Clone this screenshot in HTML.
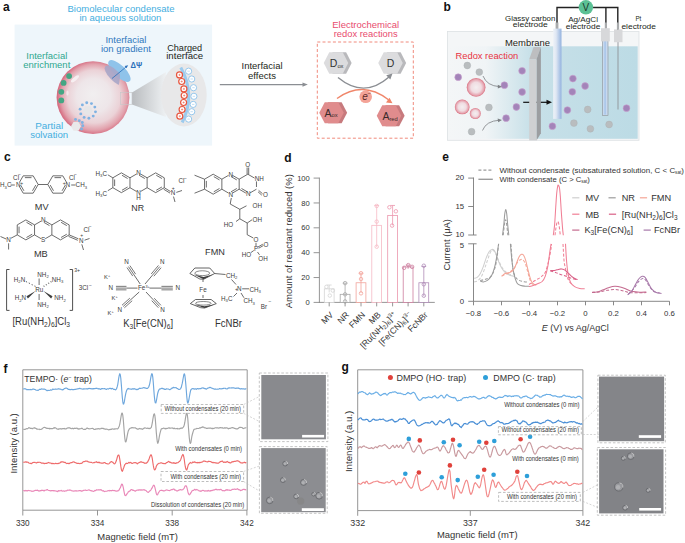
<!DOCTYPE html>
<html><head><meta charset="utf-8"><style>
html,body{margin:0;padding:0;background:#fff;}
body{width:685px;height:543px;overflow:hidden;}
svg{display:block;font-family:"Liberation Sans", sans-serif;}
</style></head><body>
<svg width="685" height="543" viewBox="0 0 685 543">
<defs>
<radialGradient id="sph" cx="0.52" cy="0.5" r="0.52" fx="0.5" fy="0.45">
<stop offset="0" stop-color="#f1eff0"/>
<stop offset="0.45" stop-color="#eee6e9"/>
<stop offset="0.7" stop-color="#ebd2d7"/>
<stop offset="0.87" stop-color="#e2a2ad"/>
<stop offset="1" stop-color="#d4647a"/>
</radialGradient>
<linearGradient id="cone" x1="0" y1="0" x2="1" y2="0">
<stop offset="0" stop-color="#b9bcbf"/>
<stop offset="1" stop-color="#eef1f3"/>
</linearGradient>
<linearGradient id="liq" x1="448" y1="0" x2="637" y2="0" gradientUnits="userSpaceOnUse">
<stop offset="0" stop-color="#f4f6f7"/>
<stop offset="0.2" stop-color="#f0f4f6"/>
<stop offset="0.44" stop-color="#c7e0e8"/>
<stop offset="1" stop-color="#bcdbe5"/>
</linearGradient>
<linearGradient id="gce" x1="0" y1="0" x2="1" y2="0">
<stop offset="0" stop-color="#eef2f8"/>
<stop offset="0.35" stop-color="#dfe7f3"/>
<stop offset="1" stop-color="#94b3df"/>
</linearGradient>
<radialGradient id="cond" cx="0.5" cy="0.5" r="0.5">
<stop offset="0" stop-color="#f4eef0"/>
<stop offset="0.55" stop-color="#f0dce1"/>
<stop offset="0.85" stop-color="#e6a4b0"/>
<stop offset="1" stop-color="#d9707f"/>
</radialGradient>
<filter id="grain" x="0" y="0" width="1" height="1">
<feTurbulence type="fractalNoise" baseFrequency="0.9" numOctaves="2" seed="3" result="n"/>
<feColorMatrix type="matrix" values="0 0 0 0 0.5  0 0 0 0 0.5  0 0 0 0 0.5  0 0 0 0.18 0" in="n" result="g"/>
<feComposite in="g" in2="SourceGraphic" operator="atop"/>
</filter>
</defs>
<rect width="685" height="543" fill="#fff"/>
<text x="3.00" y="11.00" font-size="12" fill="#111" text-anchor="start" font-weight="bold">a</text>
<text x="121.00" y="11.80" font-size="9.5" fill="#45aee0" text-anchor="middle" font-weight="normal" textLength="107" lengthAdjust="spacingAndGlyphs">Biomolecular condensate</text>
<text x="120.40" y="20.80" font-size="9.5" fill="#45aee0" text-anchor="middle" font-weight="normal" textLength="82" lengthAdjust="spacingAndGlyphs">in aqueous solution</text>
<rect x="14.60" y="24.60" width="197.50" height="121.00" fill="#eef6fb" stroke="none" stroke-width="1"/>
<circle cx="93.00" cy="97.60" r="36.4" fill="url(#sph)" stroke="none" stroke-width="1"/>
<ellipse cx="119.4" cy="71" rx="14.5" ry="5.8" transform="rotate(44 119.4 71)" fill="#8fc3ea"/>
<clipPath id="sphc"><circle cx="93" cy="97.6" r="36.4"/></clipPath>
<ellipse cx="114.5" cy="75.5" rx="13" ry="5.2" transform="rotate(46 114.5 75.5)" fill="#a9a6c8" opacity="0.9" clip-path="url(#sphc)"/>
<line x1="112.00" y1="78.50" x2="126.50" y2="66.60" stroke="#2a6fba" stroke-width="0.8"/>
<path d="M128.2,65.2 L124.6,66.1 L126.4,68.3 Z" stroke="none" stroke-width="1" fill="#2a6fba"/>
<text x="130.50" y="67.80" font-size="8.5" fill="#2a6fba" text-anchor="start" font-weight="bold" textLength="11.6" lengthAdjust="spacingAndGlyphs">ΔΨ</text>
<ellipse cx="75" cy="78.8" rx="5" ry="1.8" transform="rotate(-40 75 78.8)" fill="#f7f2f4" opacity="0.9"/>
<ellipse cx="67.5" cy="93" rx="1.2" ry="2.6" fill="#f5eef0" opacity="0.8"/>
<circle cx="69.10" cy="76.10" r="2.9" fill="#45a684" stroke="none" stroke-width="1"/>
<circle cx="63.60" cy="82.90" r="2.9" fill="#45a684" stroke="none" stroke-width="1"/>
<circle cx="61.30" cy="91.80" r="2.9" fill="#45a684" stroke="none" stroke-width="1"/>
<circle cx="61.30" cy="100.40" r="2.9" fill="#45a684" stroke="none" stroke-width="1"/>
<path d="M92.80,110.50 L90.30,114.83 L85.30,114.83 L82.80,110.50 L85.30,106.17 L90.30,106.17 Z" stroke="none" stroke-width="1" fill="#e6e6e8"/>
<circle cx="95.48" cy="111.85" r="1.45" fill="#7fb2e2" stroke="none" stroke-width="1"/>
<circle cx="93.22" cy="116.11" r="1.45" fill="#7fb2e2" stroke="none" stroke-width="1"/>
<circle cx="88.89" cy="118.22" r="1.45" fill="#7fb2e2" stroke="none" stroke-width="1"/>
<circle cx="84.14" cy="117.39" r="1.45" fill="#7fb2e2" stroke="none" stroke-width="1"/>
<circle cx="80.79" cy="113.92" r="1.45" fill="#7fb2e2" stroke="none" stroke-width="1"/>
<circle cx="80.12" cy="109.15" r="1.45" fill="#7fb2e2" stroke="none" stroke-width="1"/>
<circle cx="82.38" cy="104.89" r="1.45" fill="#7fb2e2" stroke="none" stroke-width="1"/>
<circle cx="86.71" cy="102.78" r="1.45" fill="#7fb2e2" stroke="none" stroke-width="1"/>
<circle cx="91.46" cy="103.61" r="1.45" fill="#7fb2e2" stroke="none" stroke-width="1"/>
<circle cx="94.81" cy="107.08" r="1.45" fill="#7fb2e2" stroke="none" stroke-width="1"/>
<path d="M81.00,126.30 L78.50,130.63 L73.50,130.63 L71.00,126.30 L73.50,121.97 L78.50,121.97 Z" stroke="none" stroke-width="1" fill="#e9e9ea"/>
<circle cx="75.50" cy="119.40" r="1.45" fill="#7fb2e2" stroke="none" stroke-width="1"/>
<circle cx="79.30" cy="120.70" r="1.45" fill="#7fb2e2" stroke="none" stroke-width="1"/>
<circle cx="82.30" cy="122.50" r="1.45" fill="#7fb2e2" stroke="none" stroke-width="1"/>
<circle cx="82.80" cy="125.80" r="1.45" fill="#7fb2e2" stroke="none" stroke-width="1"/>
<circle cx="81.60" cy="129.00" r="1.45" fill="#7fb2e2" stroke="none" stroke-width="1"/>
<path d="M132.00,92.50 L132.00,104.50 L166.00,117.00 L166.00,72.00 Z" stroke="none" stroke-width="1" fill="url(#cone)"/>
<rect x="120.40" y="92.50" width="11.60" height="12.00" fill="none" stroke="#c6c6c8" stroke-width="0.6"/>
<ellipse cx="183.9" cy="95" rx="22.8" ry="31.5" fill="#e8e8e9"/>
<path d="M180.8,67.5 Q196,95 182.2,122.5" stroke="#9ccbee" stroke-width="3.0" fill="none"/>
<circle cx="188.60" cy="71.20" r="3.1" fill="#fff" stroke="#8cc2ea" stroke-width="0.9"/>
<line x1="187.40" y1="71.20" x2="189.80" y2="71.20" stroke="#86bde9" stroke-width="0.5"/>
<circle cx="191.70" cy="79.00" r="3.1" fill="#fff" stroke="#8cc2ea" stroke-width="0.9"/>
<line x1="190.50" y1="79.00" x2="192.90" y2="79.00" stroke="#86bde9" stroke-width="0.5"/>
<circle cx="193.50" cy="87.70" r="3.1" fill="#fff" stroke="#8cc2ea" stroke-width="0.9"/>
<line x1="192.30" y1="87.70" x2="194.70" y2="87.70" stroke="#86bde9" stroke-width="0.5"/>
<circle cx="193.90" cy="96.30" r="3.1" fill="#fff" stroke="#8cc2ea" stroke-width="0.9"/>
<line x1="192.70" y1="96.30" x2="195.10" y2="96.30" stroke="#86bde9" stroke-width="0.5"/>
<circle cx="193.20" cy="104.40" r="3.1" fill="#fff" stroke="#8cc2ea" stroke-width="0.9"/>
<line x1="192.00" y1="104.40" x2="194.40" y2="104.40" stroke="#86bde9" stroke-width="0.5"/>
<circle cx="191.70" cy="111.70" r="3.1" fill="#fff" stroke="#8cc2ea" stroke-width="0.9"/>
<line x1="190.50" y1="111.70" x2="192.90" y2="111.70" stroke="#86bde9" stroke-width="0.5"/>
<circle cx="188.60" cy="119.10" r="3.1" fill="#fff" stroke="#8cc2ea" stroke-width="0.9"/>
<line x1="187.40" y1="119.10" x2="189.80" y2="119.10" stroke="#86bde9" stroke-width="0.5"/>
<circle cx="179.50" cy="74.90" r="3.0" fill="#fff" stroke="#e8553e" stroke-width="1.2"/>
<line x1="178.40" y1="74.90" x2="180.60" y2="74.90" stroke="#e8553e" stroke-width="0.5"/>
<line x1="179.50" y1="73.80" x2="179.50" y2="76.00" stroke="#e8553e" stroke-width="0.5"/>
<circle cx="181.70" cy="81.50" r="3.0" fill="#fff" stroke="#e8553e" stroke-width="1.2"/>
<line x1="180.60" y1="81.50" x2="182.80" y2="81.50" stroke="#e8553e" stroke-width="0.5"/>
<line x1="181.70" y1="80.40" x2="181.70" y2="82.60" stroke="#e8553e" stroke-width="0.5"/>
<circle cx="183.90" cy="88.90" r="3.0" fill="#fff" stroke="#e8553e" stroke-width="1.2"/>
<line x1="182.80" y1="88.90" x2="185.00" y2="88.90" stroke="#e8553e" stroke-width="0.5"/>
<line x1="183.90" y1="87.80" x2="183.90" y2="90.00" stroke="#e8553e" stroke-width="0.5"/>
<circle cx="184.20" cy="95.50" r="3.0" fill="#fff" stroke="#e8553e" stroke-width="1.2"/>
<line x1="183.10" y1="95.50" x2="185.30" y2="95.50" stroke="#e8553e" stroke-width="0.5"/>
<line x1="184.20" y1="94.40" x2="184.20" y2="96.60" stroke="#e8553e" stroke-width="0.5"/>
<circle cx="183.60" cy="102.50" r="3.0" fill="#fff" stroke="#e8553e" stroke-width="1.2"/>
<line x1="182.50" y1="102.50" x2="184.70" y2="102.50" stroke="#e8553e" stroke-width="0.5"/>
<line x1="183.60" y1="101.40" x2="183.60" y2="103.60" stroke="#e8553e" stroke-width="0.5"/>
<circle cx="182.10" cy="109.50" r="3.0" fill="#fff" stroke="#e8553e" stroke-width="1.2"/>
<line x1="181.00" y1="109.50" x2="183.20" y2="109.50" stroke="#e8553e" stroke-width="0.5"/>
<line x1="182.10" y1="108.40" x2="182.10" y2="110.60" stroke="#e8553e" stroke-width="0.5"/>
<circle cx="179.80" cy="116.20" r="3.0" fill="#fff" stroke="#e8553e" stroke-width="1.2"/>
<line x1="178.70" y1="116.20" x2="180.90" y2="116.20" stroke="#e8553e" stroke-width="0.5"/>
<line x1="179.80" y1="115.10" x2="179.80" y2="117.30" stroke="#e8553e" stroke-width="0.5"/>
<text x="125.90" y="43.00" font-size="9.5" fill="#2f78be" text-anchor="middle" font-weight="normal" textLength="41" lengthAdjust="spacingAndGlyphs">Interfacial</text>
<text x="125.90" y="52.20" font-size="9.5" fill="#2f78be" text-anchor="middle" font-weight="normal" textLength="50" lengthAdjust="spacingAndGlyphs">ion gradient</text>
<text x="184.70" y="50.60" font-size="9.5" fill="#231f20" text-anchor="middle" font-weight="normal" textLength="35" lengthAdjust="spacingAndGlyphs">Charged</text>
<text x="184.70" y="59.40" font-size="9.5" fill="#231f20" text-anchor="middle" font-weight="normal" textLength="37" lengthAdjust="spacingAndGlyphs">interface</text>
<text x="46.80" y="59.20" font-size="9.5" fill="#2fa88f" text-anchor="middle" font-weight="normal" textLength="41" lengthAdjust="spacingAndGlyphs">Interfacial</text>
<text x="46.80" y="68.40" font-size="9.5" fill="#2fa88f" text-anchor="middle" font-weight="normal" textLength="47" lengthAdjust="spacingAndGlyphs">enrichment</text>
<text x="49.20" y="128.80" font-size="9.5" fill="#45aee0" text-anchor="middle" font-weight="normal" textLength="28" lengthAdjust="spacingAndGlyphs">Partial</text>
<text x="49.20" y="138.00" font-size="9.5" fill="#45aee0" text-anchor="middle" font-weight="normal" textLength="38" lengthAdjust="spacingAndGlyphs">solvation</text>
<line x1="219.80" y1="84.60" x2="305.00" y2="84.60" stroke="#8b8e93" stroke-width="1.1"/>
<path d="M307.8,84.6 L302.5,82.4 L302.5,86.8 Z" stroke="none" stroke-width="1" fill="#8b8e93"/>
<text x="262.00" y="68.60" font-size="9.5" fill="#231f20" text-anchor="middle" font-weight="normal" textLength="41" lengthAdjust="spacingAndGlyphs">Interfacial</text>
<text x="262.00" y="78.50" font-size="9.5" fill="#231f20" text-anchor="middle" font-weight="normal" textLength="28" lengthAdjust="spacingAndGlyphs">effects</text>
<text x="365.70" y="27.90" font-size="9.5" fill="#e84b6e" text-anchor="middle" font-weight="normal" textLength="67" lengthAdjust="spacingAndGlyphs">Electrochemical</text>
<text x="365.70" y="37.00" font-size="9.5" fill="#e84b6e" text-anchor="middle" font-weight="normal" textLength="64" lengthAdjust="spacingAndGlyphs">redox reactions</text>
<rect x="317.30" y="42.00" width="96.00" height="96.20" fill="none" stroke="#f08a7c" stroke-width="1" stroke-dasharray="3,2.2"/>
<path d="M327.15,63.00 L332.66,52.25 L346.14,52.25 L351.65,63.00 L346.14,73.75 L332.66,73.75 Z" stroke="none" stroke-width="1" fill="#b9b9bc"/>
<path d="M323.75,63.00 L329.26,52.25 L342.74,52.25 L348.25,63.00 L342.74,73.75 L329.26,73.75 Z" stroke="none" stroke-width="1" fill="#dcdcde"/>
<path d="M381.65,63.00 L387.16,52.25 L400.64,52.25 L406.15,63.00 L400.64,73.75 L387.16,73.75 Z" stroke="none" stroke-width="1" fill="#b9b9bc"/>
<path d="M378.25,63.00 L383.76,52.25 L397.24,52.25 L402.75,63.00 L397.24,73.75 L383.76,73.75 Z" stroke="none" stroke-width="1" fill="#dcdcde"/>
<path d="M322.65,112.70 L328.16,102.20 L341.64,102.20 L347.15,112.70 L341.64,123.20 L328.16,123.20 Z" stroke="none" stroke-width="1" fill="#c77a7d"/>
<path d="M319.25,112.70 L324.76,102.20 L338.24,102.20 L343.75,112.70 L338.24,123.20 L324.76,123.20 Z" stroke="none" stroke-width="1" fill="#e08c8d"/>
<path d="M380.15,115.80 L385.66,105.30 L399.14,105.30 L404.65,115.80 L399.14,126.30 L385.66,126.30 Z" stroke="none" stroke-width="1" fill="#c77a7d"/>
<path d="M376.75,115.80 L382.26,105.30 L395.74,105.30 L401.25,115.80 L395.74,126.30 L382.26,126.30 Z" stroke="none" stroke-width="1" fill="#e08c8d"/>
<text x="329.80" y="67.30" font-size="10.5" fill="#333" text-anchor="start" font-weight="normal">D</text>
<text x="337.40" y="67.80" font-size="5.8" fill="#333" text-anchor="start" font-weight="normal">ox</text>
<text x="390.50" y="67.30" font-size="10.5" fill="#333" text-anchor="middle" font-weight="normal">D</text>
<text x="324.60" y="116.60" font-size="10.5" fill="#3a2a2a" text-anchor="start" font-weight="normal">A</text>
<text x="331.60" y="117.30" font-size="5.8" fill="#3a2a2a" text-anchor="start" font-weight="normal">ox</text>
<text x="382.40" y="119.80" font-size="10.5" fill="#3a2a2a" text-anchor="start" font-weight="normal">A</text>
<text x="389.40" y="120.60" font-size="5.8" fill="#3a2a2a" text-anchor="start" font-weight="normal">red</text>
<path d="M338,77.5 Q364,99 389,77" stroke="#8b8e93" stroke-width="1.4" fill="none"/>
<path d="M392.5,73.5 L386.2,75.2 L390.3,79.4 Z" stroke="none" stroke-width="1" fill="#8b8e93"/>
<path d="M337,98.5 Q363,80 388.5,99.8" stroke="#f0866a" stroke-width="1.4" fill="none"/>
<path d="M392.5,103.2 L386,102.6 L389.5,97.8 Z" stroke="none" stroke-width="1" fill="#f0866a"/>
<circle cx="365.70" cy="96.80" r="6.3" fill="#f4a397" stroke="none" stroke-width="1"/>
<text x="365.00" y="100.20" font-size="10" fill="#5a2a2a" text-anchor="middle" font-weight="normal" font-style="italic">e</text>
<text x="369.00" y="95.00" font-size="5.5" fill="#5a2a2a" text-anchor="middle" font-weight="normal">−</text>
<text x="443.50" y="11.20" font-size="12" fill="#111" text-anchor="start" font-weight="bold">b</text>
<rect x="447.50" y="31.50" width="191.50" height="108.80" fill="#f4f6f7" stroke="#dde1e3" stroke-width="0.8"/>
<rect x="448.20" y="46.30" width="189.50" height="92.50" fill="url(#liq)" stroke="none" stroke-width="1"/>
<circle cx="476.10" cy="87.40" r="9.4" fill="url(#cond)" stroke="none" stroke-width="1"/>
<circle cx="462.20" cy="106.90" r="7.4" fill="url(#cond)" stroke="none" stroke-width="1"/>
<circle cx="475.30" cy="113.50" r="5.5" fill="url(#cond)" stroke="none" stroke-width="1"/>
<circle cx="458.20" cy="77.20" r="3.4" fill="#a384b9" stroke="#c9a0cc" stroke-width="0.6"/>
<circle cx="504.40" cy="85.20" r="3.4" fill="#a384b9" stroke="#c9a0cc" stroke-width="0.6"/>
<circle cx="522.10" cy="70.80" r="3.4" fill="#a384b9" stroke="#c9a0cc" stroke-width="0.6"/>
<circle cx="522.10" cy="92.00" r="3.4" fill="#a384b9" stroke="#c9a0cc" stroke-width="0.6"/>
<circle cx="516.40" cy="107.00" r="3.4" fill="#a384b9" stroke="#c9a0cc" stroke-width="0.6"/>
<circle cx="506.10" cy="118.20" r="3.4" fill="#a384b9" stroke="#c9a0cc" stroke-width="0.6"/>
<circle cx="467.30" cy="65.50" r="3.4" fill="#b9bdbf" stroke="#a9adb0" stroke-width="0.4"/>
<circle cx="479.30" cy="72.10" r="3.4" fill="#b9bdbf" stroke="#a9adb0" stroke-width="0.4"/>
<circle cx="488.90" cy="107.40" r="3.4" fill="#b9bdbf" stroke="#a9adb0" stroke-width="0.4"/>
<circle cx="471.60" cy="131.70" r="3.4" fill="#b9bdbf" stroke="#a9adb0" stroke-width="0.4"/>
<path d="M483,76 Q487,86 499.5,86.6" stroke="#7d8084" stroke-width="0.8" fill="none"/>
<path d="M502,86.8 L497.8,84.8 L497.8,88.6 Z" stroke="none" stroke-width="1" fill="#7d8084"/>
<path d="M482.5,130.5 Q486,121 499.5,120.2" stroke="#7d8084" stroke-width="0.8" fill="none"/>
<path d="M502,120 L497.6,118.4 L498.2,122.2 Z" stroke="none" stroke-width="1" fill="#7d8084"/>
<text x="455.50" y="59.30" font-size="9.5" fill="#e8323f" text-anchor="start" font-weight="normal" textLength="62.8" lengthAdjust="spacingAndGlyphs">Redox reaction</text>
<line x1="523.20" y1="102.30" x2="548.50" y2="102.30" stroke="#111" stroke-width="1.2"/>
<path d="M552,102.3 L546.5,99.8 L546.5,104.8 Z" stroke="none" stroke-width="1" fill="#111"/>
<path d="M529.20,59.30 L533.60,47.10 L540.90,47.10 L536.50,59.30 Z" stroke="none" stroke-width="1" fill="#bdbec0"/>
<path d="M536.50,59.30 L540.90,47.10 L540.90,133.30 L536.50,140.40 Z" stroke="none" stroke-width="1" fill="#9c9ea1"/>
<rect x="529.20" y="59.30" width="7.30" height="81.10" fill="#cfd0d2" stroke="none" stroke-width="1"/>
<text x="527.50" y="46.00" font-size="9.5" fill="#231f20" text-anchor="middle" font-weight="normal" textLength="45" lengthAdjust="spacingAndGlyphs">Membrane</text>
<circle cx="552.40" cy="126.20" r="3.4" fill="#a384b9" stroke="#c9a0cc" stroke-width="0.6"/>
<circle cx="567.40" cy="110.10" r="3.4" fill="#a384b9" stroke="#c9a0cc" stroke-width="0.6"/>
<circle cx="572.90" cy="78.60" r="3.4" fill="#a384b9" stroke="#c9a0cc" stroke-width="0.6"/>
<circle cx="572.30" cy="91.80" r="3.4" fill="#a384b9" stroke="#c9a0cc" stroke-width="0.6"/>
<circle cx="585.10" cy="86.00" r="3.4" fill="#a384b9" stroke="#c9a0cc" stroke-width="0.6"/>
<circle cx="626.50" cy="108.20" r="3.4" fill="#a384b9" stroke="#c9a0cc" stroke-width="0.6"/>
<circle cx="587.70" cy="109.50" r="3.4" fill="#b9bdbf" stroke="#a9adb0" stroke-width="0.4"/>
<circle cx="573.90" cy="123.10" r="3.4" fill="#b9bdbf" stroke="#a9adb0" stroke-width="0.4"/>
<circle cx="590.40" cy="128.80" r="3.4" fill="#b9bdbf" stroke="#a9adb0" stroke-width="0.4"/>
<circle cx="609.10" cy="124.50" r="3.4" fill="#b9bdbf" stroke="#a9adb0" stroke-width="0.4"/>
<path d="M557,23 L557,7.5 L579,7.5" stroke="#222" stroke-width="1.4" fill="none"/>
<path d="M593,7.5 L617.8,7.5 L617.8,30" stroke="#222" stroke-width="1.4" fill="none"/>
<line x1="605.90" y1="7.50" x2="605.90" y2="28.50" stroke="#222" stroke-width="1.4"/>
<circle cx="585.90" cy="7.30" r="7.2" fill="#5cc196" stroke="none" stroke-width="1"/>
<text x="585.90" y="11.20" font-size="10" fill="#1e3b2c" text-anchor="middle" font-weight="normal">V</text>
<rect x="555.60" y="22.50" width="2.80" height="6.50" fill="#a9abad" stroke="none" stroke-width="1"/>
<rect x="553.20" y="28.60" width="8.30" height="90.30" fill="url(#gce)" stroke="none" stroke-width="1"/>
<rect x="602.40" y="40.00" width="5.60" height="75.40" fill="#c7d9ee" stroke="#8c9094" stroke-width="0.6"/>
<rect x="604.30" y="40.50" width="1.60" height="74.00" fill="#aac6ea" stroke="none" stroke-width="1"/>
<rect x="604.80" y="22.50" width="2.20" height="6.00" fill="#a9abad" stroke="none" stroke-width="1"/>
<rect x="601.00" y="28.20" width="8.80" height="13.20" fill="#d7d8da" stroke="none" stroke-width="1"/>
<line x1="618.00" y1="42.00" x2="618.00" y2="109.50" stroke="#8e9296" stroke-width="0.9"/>
<rect x="616.90" y="22.50" width="2.20" height="7.00" fill="#a9abad" stroke="none" stroke-width="1"/>
<rect x="614.00" y="29.40" width="8.50" height="12.80" fill="#d7d8da" stroke="none" stroke-width="1"/>
<text x="530.20" y="21.00" font-size="7.8" fill="#231f20" text-anchor="middle" font-weight="normal" textLength="50.3" lengthAdjust="spacingAndGlyphs">Glassy carbon</text>
<text x="530.30" y="27.30" font-size="7.8" fill="#231f20" text-anchor="middle" font-weight="normal" textLength="35.1" lengthAdjust="spacingAndGlyphs">electrode</text>
<text x="583.10" y="22.20" font-size="7.8" fill="#231f20" text-anchor="middle" font-weight="normal" textLength="29.9" lengthAdjust="spacingAndGlyphs">Ag/AgCl</text>
<text x="583.10" y="29.20" font-size="7.8" fill="#231f20" text-anchor="middle" font-weight="normal" textLength="34.5" lengthAdjust="spacingAndGlyphs">electrode</text>
<text x="638.40" y="21.00" font-size="7.8" fill="#231f20" text-anchor="middle" font-weight="normal" textLength="5.8" lengthAdjust="spacingAndGlyphs">Pt</text>
<text x="638.70" y="29.20" font-size="7.8" fill="#231f20" text-anchor="middle" font-weight="normal" textLength="34.5" lengthAdjust="spacingAndGlyphs">electrode</text>
<text x="4.00" y="160.50" font-size="12" fill="#111" text-anchor="start" font-weight="bold">c</text>
<line x1="38.20" y1="184.50" x2="33.20" y2="193.16" stroke="#3c3c3c" stroke-width="0.75"/>
<line x1="35.79" y1="185.07" x2="32.49" y2="190.79" stroke="#3c3c3c" stroke-width="0.75"/>
<line x1="33.20" y1="193.16" x2="23.20" y2="193.16" stroke="#3c3c3c" stroke-width="0.75"/>
<line x1="23.20" y1="193.16" x2="19.45" y2="186.67" stroke="#3c3c3c" stroke-width="0.75"/>
<line x1="23.91" y1="190.79" x2="20.61" y2="185.07" stroke="#3c3c3c" stroke-width="0.75"/>
<line x1="19.45" y1="182.33" x2="23.20" y2="175.84" stroke="#3c3c3c" stroke-width="0.75"/>
<line x1="23.20" y1="175.84" x2="33.20" y2="175.84" stroke="#3c3c3c" stroke-width="0.75"/>
<line x1="24.90" y1="177.64" x2="31.50" y2="177.64" stroke="#3c3c3c" stroke-width="0.75"/>
<line x1="33.20" y1="175.84" x2="38.20" y2="184.50" stroke="#3c3c3c" stroke-width="0.75"/>
<line x1="66.55" y1="186.67" x2="62.80" y2="193.16" stroke="#3c3c3c" stroke-width="0.75"/>
<line x1="65.39" y1="185.07" x2="62.09" y2="190.79" stroke="#3c3c3c" stroke-width="0.75"/>
<line x1="62.80" y1="193.16" x2="52.80" y2="193.16" stroke="#3c3c3c" stroke-width="0.75"/>
<line x1="52.80" y1="193.16" x2="47.80" y2="184.50" stroke="#3c3c3c" stroke-width="0.75"/>
<line x1="53.51" y1="190.79" x2="50.21" y2="185.07" stroke="#3c3c3c" stroke-width="0.75"/>
<line x1="47.80" y1="184.50" x2="52.80" y2="175.84" stroke="#3c3c3c" stroke-width="0.75"/>
<line x1="52.80" y1="175.84" x2="62.80" y2="175.84" stroke="#3c3c3c" stroke-width="0.75"/>
<line x1="54.50" y1="177.64" x2="61.10" y2="177.64" stroke="#3c3c3c" stroke-width="0.75"/>
<line x1="62.80" y1="175.84" x2="66.55" y2="182.33" stroke="#3c3c3c" stroke-width="0.75"/>
<line x1="38.20" y1="184.50" x2="47.80" y2="184.50" stroke="#3c3c3c" stroke-width="0.75"/>
<text x="18.20" y="187.30" font-size="6.3" fill="#3c3c3c" text-anchor="middle" font-weight="normal">N</text>
<text x="21.60" y="185.00" font-size="5" fill="#3c3c3c" text-anchor="middle" font-weight="normal">+</text>
<text x="67.80" y="187.30" font-size="6.3" fill="#3c3c3c" text-anchor="middle" font-weight="normal">N</text>
<text x="64.20" y="185.00" font-size="5" fill="#3c3c3c" text-anchor="middle" font-weight="normal">+</text>
<line x1="10.60" y1="185.00" x2="14.80" y2="185.00" stroke="#3c3c3c" stroke-width="0.75"/>
<line x1="71.20" y1="185.00" x2="75.40" y2="185.00" stroke="#3c3c3c" stroke-width="0.75"/>
<text x="0.00" y="187.30" font-size="6.3" fill="#3c3c3c" text-anchor="start" font-weight="normal">H<tspan font-size="4.2" dy="1.2">3</tspan><tspan dy="-1.2">C</tspan></text>
<text x="75.60" y="187.30" font-size="6.3" fill="#3c3c3c" text-anchor="start" font-weight="normal">CH<tspan font-size="4.2" dy="1.2">3</tspan></text>
<text x="13.10" y="179.70" font-size="6.3" fill="#3c3c3c" text-anchor="start" font-weight="normal">Cl</text>
<text x="19.50" y="175.80" font-size="5" fill="#3c3c3c" text-anchor="middle" font-weight="normal">−</text>
<text x="69.00" y="179.70" font-size="6.3" fill="#3c3c3c" text-anchor="start" font-weight="normal">Cl</text>
<text x="75.50" y="175.80" font-size="5" fill="#3c3c3c" text-anchor="middle" font-weight="normal">−</text>
<text x="41.70" y="210.30" font-size="9.4" fill="#333" text-anchor="middle" font-weight="normal" textLength="13.8" lengthAdjust="spacingAndGlyphs">MV</text>
<line x1="121.40" y1="172.85" x2="129.97" y2="177.80" stroke="#3c3c3c" stroke-width="0.75"/>
<line x1="121.96" y1="175.25" x2="127.62" y2="178.52" stroke="#3c3c3c" stroke-width="0.75"/>
<line x1="129.97" y1="177.80" x2="129.97" y2="187.70" stroke="#3c3c3c" stroke-width="0.75"/>
<line x1="129.97" y1="187.70" x2="121.40" y2="192.65" stroke="#3c3c3c" stroke-width="0.75"/>
<line x1="127.62" y1="186.98" x2="121.96" y2="190.25" stroke="#3c3c3c" stroke-width="0.75"/>
<line x1="121.40" y1="192.65" x2="112.83" y2="187.70" stroke="#3c3c3c" stroke-width="0.75"/>
<line x1="112.83" y1="187.70" x2="112.83" y2="177.80" stroke="#3c3c3c" stroke-width="0.75"/>
<line x1="114.63" y1="186.02" x2="114.63" y2="179.48" stroke="#3c3c3c" stroke-width="0.75"/>
<line x1="112.83" y1="177.80" x2="121.40" y2="172.85" stroke="#3c3c3c" stroke-width="0.75"/>
<line x1="140.54" y1="174.00" x2="147.12" y2="177.80" stroke="#3c3c3c" stroke-width="0.75"/>
<line x1="139.11" y1="175.25" x2="144.77" y2="178.52" stroke="#3c3c3c" stroke-width="0.75"/>
<line x1="147.12" y1="177.80" x2="147.12" y2="187.70" stroke="#3c3c3c" stroke-width="0.75"/>
<line x1="147.12" y1="187.70" x2="140.54" y2="191.50" stroke="#3c3c3c" stroke-width="0.75"/>
<line x1="136.56" y1="191.50" x2="129.98" y2="187.70" stroke="#3c3c3c" stroke-width="0.75"/>
<line x1="129.98" y1="177.80" x2="136.56" y2="174.00" stroke="#3c3c3c" stroke-width="0.75"/>
<line x1="155.70" y1="172.85" x2="164.27" y2="177.80" stroke="#3c3c3c" stroke-width="0.75"/>
<line x1="156.26" y1="175.25" x2="161.92" y2="178.52" stroke="#3c3c3c" stroke-width="0.75"/>
<line x1="164.27" y1="177.80" x2="164.27" y2="187.70" stroke="#3c3c3c" stroke-width="0.75"/>
<line x1="164.27" y1="187.70" x2="155.70" y2="192.65" stroke="#3c3c3c" stroke-width="0.75"/>
<line x1="161.92" y1="186.98" x2="156.26" y2="190.25" stroke="#3c3c3c" stroke-width="0.75"/>
<line x1="155.70" y1="192.65" x2="147.13" y2="187.70" stroke="#3c3c3c" stroke-width="0.75"/>
<line x1="147.13" y1="177.80" x2="155.70" y2="172.85" stroke="#3c3c3c" stroke-width="0.75"/>
<text x="138.60" y="175.30" font-size="6.3" fill="#3c3c3c" text-anchor="middle" font-weight="normal">N</text>
<text x="138.60" y="194.60" font-size="6.3" fill="#3c3c3c" text-anchor="middle" font-weight="normal">N</text>
<text x="138.60" y="200.40" font-size="6.3" fill="#3c3c3c" text-anchor="middle" font-weight="normal">H</text>
<line x1="112.83" y1="177.80" x2="107.83" y2="174.80" stroke="#3c3c3c" stroke-width="0.75"/>
<line x1="112.83" y1="187.70" x2="107.83" y2="190.70" stroke="#3c3c3c" stroke-width="0.75"/>
<text x="95.50" y="175.50" font-size="6.3" fill="#3c3c3c" text-anchor="start" font-weight="normal">H<tspan font-size="4.2" dy="1.2">3</tspan><tspan dy="-1.2">C</tspan></text>
<text x="95.50" y="195.50" font-size="6.3" fill="#3c3c3c" text-anchor="start" font-weight="normal">H<tspan font-size="4.2" dy="1.2">3</tspan><tspan dy="-1.2">C</tspan></text>
<line x1="164.27" y1="187.70" x2="170.60" y2="191.60" stroke="#3c3c3c" stroke-width="0.75"/>
<line x1="163.67" y1="189.20" x2="170.00" y2="193.10" stroke="#3c3c3c" stroke-width="0.75"/>
<text x="173.00" y="195.30" font-size="6.3" fill="#3c3c3c" text-anchor="middle" font-weight="normal">N</text>
<text x="173.30" y="189.80" font-size="5" fill="#3c3c3c" text-anchor="middle" font-weight="normal">+</text>
<line x1="176.30" y1="192.40" x2="182.00" y2="190.50" stroke="#3c3c3c" stroke-width="0.75"/>
<line x1="173.50" y1="196.60" x2="175.00" y2="202.00" stroke="#3c3c3c" stroke-width="0.75"/>
<text x="178.50" y="183.30" font-size="6.3" fill="#3c3c3c" text-anchor="start" font-weight="normal">Cl</text>
<text x="185.50" y="179.50" font-size="5" fill="#3c3c3c" text-anchor="middle" font-weight="normal">−</text>
<text x="137.70" y="210.60" font-size="9.6" fill="#333" text-anchor="middle" font-weight="normal" textLength="12.8" lengthAdjust="spacingAndGlyphs">NR</text>
<line x1="213.20" y1="174.20" x2="221.86" y2="179.20" stroke="#3c3c3c" stroke-width="0.75"/>
<line x1="213.77" y1="176.61" x2="219.49" y2="179.91" stroke="#3c3c3c" stroke-width="0.75"/>
<line x1="221.86" y1="179.20" x2="221.86" y2="189.20" stroke="#3c3c3c" stroke-width="0.75"/>
<line x1="221.86" y1="189.20" x2="213.20" y2="194.20" stroke="#3c3c3c" stroke-width="0.75"/>
<line x1="219.49" y1="188.49" x2="213.77" y2="191.79" stroke="#3c3c3c" stroke-width="0.75"/>
<line x1="213.20" y1="194.20" x2="204.54" y2="189.20" stroke="#3c3c3c" stroke-width="0.75"/>
<line x1="204.54" y1="189.20" x2="204.54" y2="179.20" stroke="#3c3c3c" stroke-width="0.75"/>
<line x1="206.34" y1="187.50" x2="206.34" y2="180.90" stroke="#3c3c3c" stroke-width="0.75"/>
<line x1="204.54" y1="179.20" x2="213.20" y2="174.20" stroke="#3c3c3c" stroke-width="0.75"/>
<line x1="232.41" y1="175.30" x2="239.16" y2="179.20" stroke="#3c3c3c" stroke-width="0.75"/>
<line x1="231.07" y1="176.61" x2="236.79" y2="179.91" stroke="#3c3c3c" stroke-width="0.75"/>
<line x1="239.16" y1="179.20" x2="239.16" y2="189.20" stroke="#3c3c3c" stroke-width="0.75"/>
<line x1="239.16" y1="189.20" x2="232.41" y2="193.10" stroke="#3c3c3c" stroke-width="0.75"/>
<line x1="236.79" y1="188.49" x2="231.07" y2="191.79" stroke="#3c3c3c" stroke-width="0.75"/>
<line x1="228.59" y1="193.10" x2="221.84" y2="189.20" stroke="#3c3c3c" stroke-width="0.75"/>
<line x1="221.84" y1="179.20" x2="228.59" y2="175.30" stroke="#3c3c3c" stroke-width="0.75"/>
<line x1="247.80" y1="174.20" x2="254.55" y2="178.10" stroke="#3c3c3c" stroke-width="0.75"/>
<line x1="256.46" y1="181.40" x2="256.46" y2="187.00" stroke="#3c3c3c" stroke-width="0.75"/>
<line x1="256.46" y1="189.20" x2="249.71" y2="193.10" stroke="#3c3c3c" stroke-width="0.75"/>
<line x1="245.89" y1="193.10" x2="239.14" y2="189.20" stroke="#3c3c3c" stroke-width="0.75"/>
<line x1="247.23" y1="191.79" x2="241.51" y2="188.49" stroke="#3c3c3c" stroke-width="0.75"/>
<line x1="239.14" y1="179.20" x2="247.80" y2="174.20" stroke="#3c3c3c" stroke-width="0.75"/>
<text x="230.90" y="177.40" font-size="6.3" fill="#3c3c3c" text-anchor="middle" font-weight="normal">N</text>
<text x="230.90" y="196.60" font-size="6.3" fill="#3c3c3c" text-anchor="middle" font-weight="normal">N</text>
<text x="259.26" y="181.40" font-size="6.3" fill="#3c3c3c" text-anchor="middle" font-weight="normal">NH</text>
<text x="248.30" y="196.40" font-size="6.3" fill="#3c3c3c" text-anchor="middle" font-weight="normal">N</text>
<line x1="247.10" y1="174.20" x2="247.10" y2="167.50" stroke="#3c3c3c" stroke-width="0.75"/>
<line x1="248.70" y1="174.20" x2="248.70" y2="167.50" stroke="#3c3c3c" stroke-width="0.75"/>
<text x="247.70" y="167.20" font-size="6.3" fill="#3c3c3c" text-anchor="middle" font-weight="normal">O</text>
<line x1="258.66" y1="190.40" x2="262.50" y2="193.70" stroke="#3c3c3c" stroke-width="0.75"/>
<line x1="258.06" y1="191.80" x2="261.80" y2="195.20" stroke="#3c3c3c" stroke-width="0.75"/>
<text x="265.50" y="197.20" font-size="6.3" fill="#3c3c3c" text-anchor="middle" font-weight="normal">O</text>
<line x1="204.54" y1="179.20" x2="194.54" y2="175.20" stroke="#3c3c3c" stroke-width="0.75"/>
<line x1="204.54" y1="189.20" x2="194.54" y2="193.20" stroke="#3c3c3c" stroke-width="0.75"/>
<path d="M231.30,198.00 L230.20,204.00 L239.80,209.30 L239.80,218.80 L247.20,223.00 L247.20,234.70 L253.30,238.00" stroke="#3c3c3c" stroke-width="0.75" fill="none"/>
<line x1="239.80" y1="209.30" x2="246.50" y2="205.80" stroke="#3c3c3c" stroke-width="0.75"/>
<line x1="239.80" y1="218.80" x2="236.00" y2="221.50" stroke="#3c3c3c" stroke-width="0.75"/>
<line x1="247.20" y1="223.00" x2="252.00" y2="219.80" stroke="#3c3c3c" stroke-width="0.75"/>
<text x="252.50" y="207.80" font-size="6.3" fill="#3c3c3c" text-anchor="start" font-weight="normal">OH</text>
<text x="228.50" y="226.50" font-size="6.3" fill="#3c3c3c" text-anchor="middle" font-weight="normal">HO</text>
<text x="252.50" y="221.80" font-size="6.3" fill="#3c3c3c" text-anchor="start" font-weight="normal">OH</text>
<text x="256.00" y="241.60" font-size="6.3" fill="#3c3c3c" text-anchor="middle" font-weight="normal">O</text>
<line x1="256.00" y1="242.80" x2="256.00" y2="246.00" stroke="#3c3c3c" stroke-width="0.75"/>
<text x="256.00" y="251.00" font-size="6.3" fill="#3c3c3c" text-anchor="middle" font-weight="normal">P</text>
<line x1="258.00" y1="247.00" x2="262.80" y2="244.20" stroke="#3c3c3c" stroke-width="0.75"/>
<line x1="258.60" y1="248.30" x2="263.40" y2="245.50" stroke="#3c3c3c" stroke-width="0.75"/>
<text x="266.00" y="246.60" font-size="6.3" fill="#3c3c3c" text-anchor="middle" font-weight="normal">O</text>
<line x1="253.80" y1="250.50" x2="251.00" y2="252.50" stroke="#3c3c3c" stroke-width="0.75"/>
<line x1="257.50" y1="252.00" x2="259.50" y2="254.80" stroke="#3c3c3c" stroke-width="0.75"/>
<text x="246.50" y="256.50" font-size="6.3" fill="#3c3c3c" text-anchor="middle" font-weight="normal">HO</text>
<text x="263.00" y="260.80" font-size="6.3" fill="#3c3c3c" text-anchor="middle" font-weight="normal">OH</text>
<text x="215.00" y="254.60" font-size="9.8" fill="#333" text-anchor="middle" font-weight="normal" textLength="19.8" lengthAdjust="spacingAndGlyphs">FMN</text>
<line x1="25.90" y1="219.90" x2="34.56" y2="224.90" stroke="#3c3c3c" stroke-width="0.75"/>
<line x1="26.47" y1="222.31" x2="32.19" y2="225.61" stroke="#3c3c3c" stroke-width="0.75"/>
<line x1="34.56" y1="224.90" x2="34.56" y2="234.90" stroke="#3c3c3c" stroke-width="0.75"/>
<line x1="34.56" y1="234.90" x2="25.90" y2="239.90" stroke="#3c3c3c" stroke-width="0.75"/>
<line x1="32.19" y1="234.19" x2="26.47" y2="237.49" stroke="#3c3c3c" stroke-width="0.75"/>
<line x1="25.90" y1="239.90" x2="17.24" y2="234.90" stroke="#3c3c3c" stroke-width="0.75"/>
<line x1="17.24" y1="234.90" x2="17.24" y2="224.90" stroke="#3c3c3c" stroke-width="0.75"/>
<line x1="19.04" y1="233.20" x2="19.04" y2="226.60" stroke="#3c3c3c" stroke-width="0.75"/>
<line x1="17.24" y1="224.90" x2="25.90" y2="219.90" stroke="#3c3c3c" stroke-width="0.75"/>
<line x1="45.19" y1="221.05" x2="51.86" y2="224.90" stroke="#3c3c3c" stroke-width="0.75"/>
<line x1="43.77" y1="222.31" x2="49.49" y2="225.61" stroke="#3c3c3c" stroke-width="0.75"/>
<line x1="51.86" y1="224.90" x2="51.86" y2="234.90" stroke="#3c3c3c" stroke-width="0.75"/>
<line x1="51.86" y1="234.90" x2="45.19" y2="238.75" stroke="#3c3c3c" stroke-width="0.75"/>
<line x1="41.21" y1="238.75" x2="34.54" y2="234.90" stroke="#3c3c3c" stroke-width="0.75"/>
<line x1="34.54" y1="224.90" x2="41.21" y2="221.05" stroke="#3c3c3c" stroke-width="0.75"/>
<line x1="60.50" y1="219.90" x2="69.16" y2="224.90" stroke="#3c3c3c" stroke-width="0.75"/>
<line x1="61.07" y1="222.31" x2="66.79" y2="225.61" stroke="#3c3c3c" stroke-width="0.75"/>
<line x1="69.16" y1="224.90" x2="69.16" y2="234.90" stroke="#3c3c3c" stroke-width="0.75"/>
<line x1="69.16" y1="234.90" x2="60.50" y2="239.90" stroke="#3c3c3c" stroke-width="0.75"/>
<line x1="66.79" y1="234.19" x2="61.07" y2="237.49" stroke="#3c3c3c" stroke-width="0.75"/>
<line x1="60.50" y1="239.90" x2="51.84" y2="234.90" stroke="#3c3c3c" stroke-width="0.75"/>
<line x1="51.84" y1="224.90" x2="60.50" y2="219.90" stroke="#3c3c3c" stroke-width="0.75"/>
<text x="43.20" y="222.30" font-size="6.3" fill="#3c3c3c" text-anchor="middle" font-weight="normal">N</text>
<text x="43.20" y="242.30" font-size="6.3" fill="#3c3c3c" text-anchor="middle" font-weight="normal">S</text>
<line x1="17.24" y1="234.90" x2="10.80" y2="238.30" stroke="#3c3c3c" stroke-width="0.75"/>
<text x="8.60" y="241.80" font-size="6.3" fill="#3c3c3c" text-anchor="middle" font-weight="normal">N</text>
<line x1="6.20" y1="239.00" x2="0.50" y2="236.50" stroke="#3c3c3c" stroke-width="0.75"/>
<line x1="8.60" y1="243.30" x2="8.60" y2="249.50" stroke="#3c3c3c" stroke-width="0.75"/>
<line x1="69.16" y1="234.90" x2="78.40" y2="238.80" stroke="#3c3c3c" stroke-width="0.75"/>
<line x1="68.56" y1="236.40" x2="77.80" y2="240.30" stroke="#3c3c3c" stroke-width="0.75"/>
<text x="81.30" y="242.80" font-size="6.3" fill="#3c3c3c" text-anchor="middle" font-weight="normal">N</text>
<text x="81.60" y="237.00" font-size="5" fill="#3c3c3c" text-anchor="middle" font-weight="normal">+</text>
<line x1="84.50" y1="240.20" x2="89.50" y2="238.50" stroke="#3c3c3c" stroke-width="0.75"/>
<line x1="81.80" y1="244.30" x2="83.50" y2="250.00" stroke="#3c3c3c" stroke-width="0.75"/>
<text x="83.50" y="232.00" font-size="6.3" fill="#3c3c3c" text-anchor="start" font-weight="normal">Cl</text>
<text x="90.20" y="228.20" font-size="5" fill="#3c3c3c" text-anchor="middle" font-weight="normal">−</text>
<text x="40.80" y="256.90" font-size="9.6" fill="#333" text-anchor="middle" font-weight="normal" textLength="13.8" lengthAdjust="spacingAndGlyphs">MB</text>
<path d="M9.5,269.5 L6.6,269.5 L6.6,310.4 L9.5,310.4" stroke="#3c3c3c" stroke-width="0.9" fill="none"/>
<path d="M69.7,269.5 L72.6,269.5 L72.6,310.4 L69.7,310.4" stroke="#3c3c3c" stroke-width="0.9" fill="none"/>
<text x="74.20" y="272.20" font-size="5.2" fill="#3c3c3c" text-anchor="start" font-weight="normal">3+</text>
<text x="78.80" y="290.30" font-size="6.3" fill="#3c3c3c" text-anchor="start" font-weight="normal">3Cl</text>
<text x="90.50" y="286.50" font-size="5" fill="#3c3c3c" text-anchor="middle" font-weight="normal">−</text>
<text x="39.30" y="291.60" font-size="6.3" fill="#3c3c3c" text-anchor="middle" font-weight="normal">Ru</text>
<line x1="39.10" y1="278.50" x2="39.10" y2="285.00" stroke="#3c3c3c" stroke-width="0.75"/>
<line x1="39.10" y1="294.00" x2="39.10" y2="300.00" stroke="#3c3c3c" stroke-width="0.75"/>
<text x="43.00" y="277.20" font-size="6.3" fill="#3c3c3c" text-anchor="middle" font-weight="normal">NH<tspan font-size="4.2" dy="1.2">2</tspan></text>
<text x="43.00" y="306.50" font-size="6.3" fill="#3c3c3c" text-anchor="middle" font-weight="normal">NH<tspan font-size="4.2" dy="1.2">2</tspan></text>
<text x="19.50" y="281.60" font-size="6.3" fill="#3c3c3c" text-anchor="middle" font-weight="normal">H<tspan font-size="4.2" dy="1.2">2</tspan><tspan dy="-1.2">N</tspan></text>
<text x="57.50" y="281.60" font-size="6.3" fill="#3c3c3c" text-anchor="middle" font-weight="normal">NH<tspan font-size="4.2" dy="1.2">3</tspan></text>
<text x="20.40" y="300.30" font-size="6.3" fill="#3c3c3c" text-anchor="middle" font-weight="normal">H<tspan font-size="4.2" dy="1.2">2</tspan><tspan dy="-1.2">N</tspan></text>
<text x="60.00" y="300.30" font-size="6.3" fill="#3c3c3c" text-anchor="middle" font-weight="normal">NH<tspan font-size="4.2" dy="1.2">2</tspan></text>
<line x1="26.30" y1="281.20" x2="26.70" y2="282.40" stroke="#3c3c3c" stroke-width="0.8"/>
<line x1="29.13" y1="282.67" x2="29.53" y2="283.87" stroke="#3c3c3c" stroke-width="0.8"/>
<line x1="31.97" y1="284.13" x2="32.37" y2="285.33" stroke="#3c3c3c" stroke-width="0.8"/>
<line x1="34.80" y1="285.60" x2="35.20" y2="286.80" stroke="#3c3c3c" stroke-width="0.8"/>
<line x1="43.80" y1="285.60" x2="44.20" y2="286.80" stroke="#3c3c3c" stroke-width="0.8"/>
<line x1="46.13" y1="284.13" x2="46.53" y2="285.33" stroke="#3c3c3c" stroke-width="0.8"/>
<line x1="48.47" y1="282.67" x2="48.87" y2="283.87" stroke="#3c3c3c" stroke-width="0.8"/>
<line x1="50.80" y1="281.20" x2="51.20" y2="282.40" stroke="#3c3c3c" stroke-width="0.8"/>
<path d="M35.50,291.00 L26.50,296.20 L27.90,298.40 Z" stroke="none" stroke-width="1" fill="#3c3c3c"/>
<path d="M43.50,291.00 L52.50,296.20 L51.10,298.40 Z" stroke="none" stroke-width="1" fill="#3c3c3c"/>
<text x="12.40" y="325.00" font-size="10" fill="#333" text-anchor="start" font-weight="normal" textLength="57.6" lengthAdjust="spacingAndGlyphs">[Ru(NH<tspan font-size="7" dy="2">2</tspan><tspan dy="-2">)</tspan><tspan font-size="7" dy="2">6</tspan><tspan dy="-2">]Cl</tspan><tspan font-size="7" dy="2">3</tspan></text>
<text x="141.60" y="290.40" font-size="6.3" fill="#3c3c3c" text-anchor="middle" font-weight="normal">Fe</text>
<text x="145.50" y="287.50" font-size="3.8" fill="#3c3c3c" text-anchor="start" font-weight="normal">3+</text>
<line x1="137.50" y1="288.10" x2="126.47" y2="288.10" stroke="#3c3c3c" stroke-width="0.75"/>
<line x1="126.47" y1="289.85" x2="115.94" y2="289.85" stroke="#3c3c3c" stroke-width="0.7"/>
<line x1="126.47" y1="288.10" x2="115.94" y2="288.10" stroke="#3c3c3c" stroke-width="0.7"/>
<line x1="126.47" y1="286.35" x2="115.94" y2="286.35" stroke="#3c3c3c" stroke-width="0.7"/>
<line x1="149.50" y1="288.10" x2="161.43" y2="288.10" stroke="#3c3c3c" stroke-width="0.75"/>
<line x1="161.43" y1="286.35" x2="172.82" y2="286.35" stroke="#3c3c3c" stroke-width="0.7"/>
<line x1="161.43" y1="288.10" x2="172.82" y2="288.10" stroke="#3c3c3c" stroke-width="0.7"/>
<line x1="161.43" y1="289.85" x2="172.82" y2="289.85" stroke="#3c3c3c" stroke-width="0.7"/>
<line x1="140.20" y1="284.00" x2="134.17" y2="275.09" stroke="#3c3c3c" stroke-width="0.75"/>
<line x1="132.72" y1="276.07" x2="126.96" y2="267.56" stroke="#3c3c3c" stroke-width="0.7"/>
<line x1="134.17" y1="275.09" x2="128.41" y2="266.58" stroke="#3c3c3c" stroke-width="0.7"/>
<line x1="135.62" y1="274.11" x2="129.86" y2="265.60" stroke="#3c3c3c" stroke-width="0.7"/>
<line x1="145.00" y1="284.00" x2="152.56" y2="275.09" stroke="#3c3c3c" stroke-width="0.75"/>
<line x1="151.23" y1="273.96" x2="158.45" y2="265.44" stroke="#3c3c3c" stroke-width="0.7"/>
<line x1="152.56" y1="275.09" x2="159.78" y2="266.58" stroke="#3c3c3c" stroke-width="0.7"/>
<line x1="153.89" y1="276.22" x2="161.12" y2="267.71" stroke="#3c3c3c" stroke-width="0.7"/>
<line x1="139.20" y1="292.00" x2="131.01" y2="299.43" stroke="#3c3c3c" stroke-width="0.75"/>
<line x1="132.19" y1="300.72" x2="124.36" y2="307.82" stroke="#3c3c3c" stroke-width="0.7"/>
<line x1="131.01" y1="299.43" x2="123.18" y2="306.52" stroke="#3c3c3c" stroke-width="0.7"/>
<line x1="129.83" y1="298.13" x2="122.01" y2="305.22" stroke="#3c3c3c" stroke-width="0.7"/>
<line x1="146.00" y1="292.00" x2="152.97" y2="299.43" stroke="#3c3c3c" stroke-width="0.75"/>
<line x1="154.25" y1="298.23" x2="160.92" y2="305.32" stroke="#3c3c3c" stroke-width="0.7"/>
<line x1="152.97" y1="299.43" x2="159.64" y2="306.52" stroke="#3c3c3c" stroke-width="0.7"/>
<line x1="151.70" y1="300.62" x2="158.36" y2="307.72" stroke="#3c3c3c" stroke-width="0.7"/>
<text x="110.90" y="290.40" font-size="6.3" fill="#3c3c3c" text-anchor="middle" font-weight="normal">N</text>
<text x="177.80" y="290.40" font-size="6.3" fill="#3c3c3c" text-anchor="middle" font-weight="normal">N</text>
<text x="126.50" y="264.00" font-size="6.3" fill="#3c3c3c" text-anchor="middle" font-weight="normal">N</text>
<text x="162.40" y="264.00" font-size="6.3" fill="#3c3c3c" text-anchor="middle" font-weight="normal">N</text>
<text x="119.80" y="312.40" font-size="6.3" fill="#3c3c3c" text-anchor="middle" font-weight="normal">N</text>
<text x="162.60" y="312.40" font-size="6.3" fill="#3c3c3c" text-anchor="middle" font-weight="normal">N</text>
<text x="104.00" y="278.80" font-size="5.8" fill="#3c3c3c" text-anchor="start" font-weight="normal">K</text>
<text x="108.00" y="276.60" font-size="3.8" fill="#3c3c3c" text-anchor="start" font-weight="normal">+</text>
<text x="111.50" y="300.30" font-size="5.8" fill="#3c3c3c" text-anchor="start" font-weight="normal">K</text>
<text x="115.50" y="298.10" font-size="3.8" fill="#3c3c3c" text-anchor="start" font-weight="normal">+</text>
<text x="107.50" y="314.80" font-size="5.8" fill="#3c3c3c" text-anchor="start" font-weight="normal">K</text>
<text x="111.50" y="312.60" font-size="3.8" fill="#3c3c3c" text-anchor="start" font-weight="normal">+</text>
<text x="123.30" y="326.80" font-size="10" fill="#333" text-anchor="start" font-weight="normal" textLength="49.7" lengthAdjust="spacingAndGlyphs">K<tspan font-size="7" dy="2">3</tspan><tspan dy="-2">[Fe(CN)</tspan><tspan font-size="7" dy="2">6</tspan><tspan dy="-2">]</tspan></text>
<path d="M189.90,273.50 L194.86,268.00 L209.74,268.00 L214.70,273.50 L203.54,279.30 L199.82,279.00 Z" stroke="#3c3c3c" stroke-width="0.8" fill="none"/>
<path d="M193.62,274.60 L203.54,279.30 L212.72,274.60 L203.54,277.02 Z" stroke="none" stroke-width="1" fill="#3c3c3c"/>
<ellipse cx="202.30" cy="273.20" rx="7.44" ry="2.42" fill="none" stroke="#3c3c3c" stroke-width="0.6"/>
<path d="M190.30,303.60 L195.50,299.50 L211.10,299.50 L216.30,303.60 L204.60,308.00 L200.70,307.70 Z" stroke="#3c3c3c" stroke-width="0.8" fill="none"/>
<path d="M194.20,304.42 L204.60,308.00 L214.22,304.42 L204.60,306.22 Z" stroke="none" stroke-width="1" fill="#3c3c3c"/>
<ellipse cx="203.30" cy="303.30" rx="7.80" ry="1.80" fill="none" stroke="#3c3c3c" stroke-width="0.6"/>
<line x1="203.00" y1="279.50" x2="203.00" y2="282.00" stroke="#3c3c3c" stroke-width="0.75"/>
<line x1="203.00" y1="295.00" x2="203.00" y2="298.00" stroke="#3c3c3c" stroke-width="0.75"/>
<text x="203.00" y="291.80" font-size="6.3" fill="#3c3c3c" text-anchor="middle" font-weight="normal">Fe</text>
<line x1="214.50" y1="273.50" x2="225.50" y2="274.50" stroke="#3c3c3c" stroke-width="0.75"/>
<text x="226.00" y="277.50" font-size="6.3" fill="#3c3c3c" text-anchor="start" font-weight="normal">CH<tspan font-size="4.2" dy="1.2">2</tspan></text>
<line x1="231.50" y1="279.50" x2="236.00" y2="284.50" stroke="#3c3c3c" stroke-width="0.75"/>
<text x="236.50" y="291.00" font-size="5" fill="#3c3c3c" text-anchor="middle" font-weight="normal">+</text>
<text x="239.20" y="291.00" font-size="6.3" fill="#3c3c3c" text-anchor="middle" font-weight="normal">N</text>
<line x1="242.20" y1="288.80" x2="249.00" y2="288.80" stroke="#3c3c3c" stroke-width="0.75"/>
<text x="249.50" y="291.50" font-size="6.3" fill="#3c3c3c" text-anchor="start" font-weight="normal">CH<tspan font-size="4.2" dy="1.2">3</tspan></text>
<line x1="237.00" y1="293.00" x2="233.50" y2="296.50" stroke="#3c3c3c" stroke-width="0.75"/>
<text x="221.00" y="300.80" font-size="6.3" fill="#3c3c3c" text-anchor="start" font-weight="normal">H<tspan font-size="4.2" dy="1.2">3</tspan><tspan dy="-1.2">C</tspan></text>
<line x1="241.00" y1="293.00" x2="244.00" y2="297.80" stroke="#3c3c3c" stroke-width="0.75"/>
<text x="243.50" y="303.30" font-size="6.3" fill="#3c3c3c" text-anchor="start" font-weight="normal">CH<tspan font-size="4.2" dy="1.2">3</tspan></text>
<text x="264.00" y="308.50" font-size="6.3" fill="#3c3c3c" text-anchor="middle" font-weight="normal">Br</text>
<text x="270.00" y="302.50" font-size="5" fill="#3c3c3c" text-anchor="middle" font-weight="normal">−</text>
<text x="215.00" y="326.50" font-size="10" fill="#333" text-anchor="start" font-weight="normal" textLength="27" lengthAdjust="spacingAndGlyphs">FcNBr</text>
<text x="284.20" y="162.30" font-size="12" fill="#111" text-anchor="start" font-weight="bold">d</text>
<line x1="319.40" y1="177.60" x2="319.40" y2="302.90" stroke="#8a8a8a" stroke-width="0.9"/>
<line x1="318.90" y1="302.40" x2="434.80" y2="302.40" stroke="#8a8a8a" stroke-width="0.9"/>
<line x1="313.60" y1="302.40" x2="319.40" y2="302.40" stroke="#8a8a8a" stroke-width="0.9"/>
<text x="309.80" y="305.00" font-size="7.6" fill="#333" text-anchor="end" font-weight="normal">0</text>
<line x1="313.60" y1="277.54" x2="319.40" y2="277.54" stroke="#8a8a8a" stroke-width="0.9"/>
<text x="309.80" y="280.14" font-size="7.6" fill="#333" text-anchor="end" font-weight="normal">20</text>
<line x1="313.60" y1="252.68" x2="319.40" y2="252.68" stroke="#8a8a8a" stroke-width="0.9"/>
<text x="309.80" y="255.28" font-size="7.6" fill="#333" text-anchor="end" font-weight="normal">40</text>
<line x1="313.60" y1="227.82" x2="319.40" y2="227.82" stroke="#8a8a8a" stroke-width="0.9"/>
<text x="309.80" y="230.42" font-size="7.6" fill="#333" text-anchor="end" font-weight="normal">60</text>
<line x1="313.60" y1="202.96" x2="319.40" y2="202.96" stroke="#8a8a8a" stroke-width="0.9"/>
<text x="309.80" y="205.56" font-size="7.6" fill="#333" text-anchor="end" font-weight="normal">80</text>
<line x1="313.60" y1="178.10" x2="319.40" y2="178.10" stroke="#8a8a8a" stroke-width="0.9"/>
<text x="309.80" y="180.70" font-size="7.6" fill="#333" text-anchor="end" font-weight="normal">100</text>
<text transform="translate(291.6,241.2) rotate(-90)" font-size="8.9" fill="#333" text-anchor="middle" textLength="134" lengthAdjust="spacingAndGlyphs">Amount of reactant reduced (%)</text>
<rect x="324.30" y="288.85" width="9.80" height="13.55" fill="#fff" stroke="#d4d4d4" stroke-width="0.8"/>
<line x1="329.20" y1="285.00" x2="329.20" y2="292.46" stroke="#d4d4d4" stroke-width="0.8"/>
<line x1="326.80" y1="285.00" x2="331.60" y2="285.00" stroke="#d4d4d4" stroke-width="0.8"/>
<circle cx="326.40" cy="286.86" r="1.75" fill="none" stroke="#d4d4d4" stroke-width="0.8"/>
<circle cx="332.80" cy="290.59" r="1.75" fill="none" stroke="#d4d4d4" stroke-width="0.8"/>
<circle cx="329.80" cy="295.56" r="1.75" fill="none" stroke="#d4d4d4" stroke-width="0.8"/>
<line x1="329.20" y1="302.40" x2="329.20" y2="306.40" stroke="#8a8a8a" stroke-width="0.9"/>
<rect x="340.20" y="294.32" width="9.80" height="8.08" fill="#fff" stroke="#a9a9a9" stroke-width="0.8"/>
<line x1="345.10" y1="283.13" x2="345.10" y2="301.78" stroke="#a9a9a9" stroke-width="0.8"/>
<line x1="342.70" y1="283.13" x2="347.50" y2="283.13" stroke="#a9a9a9" stroke-width="0.8"/>
<circle cx="345.10" cy="283.13" r="1.75" fill="none" stroke="#a9a9a9" stroke-width="0.8"/>
<circle cx="345.10" cy="294.32" r="1.75" fill="none" stroke="#a9a9a9" stroke-width="0.8"/>
<circle cx="345.10" cy="301.41" r="1.75" fill="none" stroke="#a9a9a9" stroke-width="0.8"/>
<line x1="345.10" y1="302.40" x2="345.10" y2="306.40" stroke="#8a8a8a" stroke-width="0.9"/>
<rect x="356.10" y="282.76" width="9.80" height="19.64" fill="#fff" stroke="#f2a49c" stroke-width="0.8"/>
<line x1="361.00" y1="273.19" x2="361.00" y2="293.08" stroke="#f2a49c" stroke-width="0.8"/>
<line x1="358.60" y1="273.19" x2="363.40" y2="273.19" stroke="#f2a49c" stroke-width="0.8"/>
<circle cx="361.00" cy="273.19" r="1.75" fill="none" stroke="#f2a49c" stroke-width="0.8"/>
<circle cx="361.00" cy="279.03" r="1.75" fill="none" stroke="#f2a49c" stroke-width="0.8"/>
<circle cx="361.00" cy="293.33" r="1.75" fill="none" stroke="#f2a49c" stroke-width="0.8"/>
<line x1="361.00" y1="302.40" x2="361.00" y2="306.40" stroke="#8a8a8a" stroke-width="0.9"/>
<rect x="371.80" y="225.33" width="9.80" height="77.07" fill="#fff" stroke="#f6bac5" stroke-width="0.8"/>
<line x1="376.70" y1="205.45" x2="376.70" y2="247.09" stroke="#f6bac5" stroke-width="0.8"/>
<line x1="374.30" y1="205.45" x2="379.10" y2="205.45" stroke="#f6bac5" stroke-width="0.8"/>
<circle cx="376.70" cy="205.94" r="1.75" fill="none" stroke="#f6bac5" stroke-width="0.8"/>
<circle cx="376.70" cy="221.60" r="1.75" fill="none" stroke="#f6bac5" stroke-width="0.8"/>
<circle cx="376.70" cy="246.71" r="1.75" fill="none" stroke="#f6bac5" stroke-width="0.8"/>
<line x1="376.70" y1="302.40" x2="376.70" y2="306.40" stroke="#8a8a8a" stroke-width="0.9"/>
<rect x="387.70" y="215.39" width="9.80" height="87.01" fill="#fff" stroke="#ec97ad" stroke-width="0.8"/>
<line x1="392.60" y1="205.45" x2="392.60" y2="225.33" stroke="#ec97ad" stroke-width="0.8"/>
<line x1="390.20" y1="205.45" x2="395.00" y2="205.45" stroke="#ec97ad" stroke-width="0.8"/>
<circle cx="389.40" cy="207.31" r="1.75" fill="none" stroke="#ec97ad" stroke-width="0.8"/>
<circle cx="395.90" cy="211.29" r="1.75" fill="none" stroke="#ec97ad" stroke-width="0.8"/>
<circle cx="392.10" cy="225.58" r="1.75" fill="none" stroke="#ec97ad" stroke-width="0.8"/>
<line x1="392.60" y1="302.40" x2="392.60" y2="306.40" stroke="#8a8a8a" stroke-width="0.9"/>
<rect x="403.20" y="266.97" width="9.80" height="35.43" fill="#fff" stroke="#cd7e9e" stroke-width="0.8"/>
<line x1="408.10" y1="265.11" x2="408.10" y2="268.84" stroke="#cd7e9e" stroke-width="0.8"/>
<line x1="405.70" y1="265.11" x2="410.50" y2="265.11" stroke="#cd7e9e" stroke-width="0.8"/>
<circle cx="404.10" cy="267.84" r="1.75" fill="none" stroke="#cd7e9e" stroke-width="0.8"/>
<circle cx="408.30" cy="265.11" r="1.75" fill="none" stroke="#cd7e9e" stroke-width="0.8"/>
<circle cx="412.10" cy="266.85" r="1.75" fill="none" stroke="#cd7e9e" stroke-width="0.8"/>
<line x1="408.10" y1="302.40" x2="408.10" y2="306.40" stroke="#8a8a8a" stroke-width="0.9"/>
<rect x="418.90" y="282.76" width="9.80" height="19.64" fill="#fff" stroke="#b08cb8" stroke-width="0.8"/>
<line x1="423.80" y1="266.35" x2="423.80" y2="296.19" stroke="#b08cb8" stroke-width="0.8"/>
<line x1="421.40" y1="266.35" x2="426.20" y2="266.35" stroke="#b08cb8" stroke-width="0.8"/>
<circle cx="423.80" cy="265.73" r="1.75" fill="none" stroke="#b08cb8" stroke-width="0.8"/>
<circle cx="423.80" cy="284.25" r="1.75" fill="none" stroke="#b08cb8" stroke-width="0.8"/>
<circle cx="423.80" cy="295.69" r="1.75" fill="none" stroke="#b08cb8" stroke-width="0.8"/>
<line x1="423.80" y1="302.40" x2="423.80" y2="306.40" stroke="#8a8a8a" stroke-width="0.9"/>
<text transform="translate(333.80,315.40) rotate(-45)" font-size="8.6" fill="#333" text-anchor="end">MV</text>
<text transform="translate(349.70,315.40) rotate(-45)" font-size="8.6" fill="#333" text-anchor="end">NR</text>
<text transform="translate(365.60,315.40) rotate(-45)" font-size="8.6" fill="#333" text-anchor="end">FMN</text>
<text transform="translate(381.30,315.40) rotate(-45)" font-size="8.6" fill="#333" text-anchor="end">MB</text>
<text transform="translate(397.20,315.40) rotate(-45)" font-size="8.6" fill="#333" text-anchor="end">[Ru(NH<tspan font-size="6" dy="1.5">2</tspan><tspan dy="-1.5">)</tspan><tspan font-size="6" dy="1.5">6</tspan><tspan dy="-1.5">]</tspan><tspan font-size="6" dy="-3">3+</tspan></text>
<text transform="translate(412.70,315.40) rotate(-45)" font-size="8.6" fill="#333" text-anchor="end">[Fe(CN)<tspan font-size="6" dy="1.5">6</tspan><tspan dy="-1.5">]</tspan><tspan font-size="6" dy="-3">3−</tspan></text>
<text transform="translate(428.40,315.40) rotate(-45)" font-size="8.6" fill="#333" text-anchor="end">FcNBr</text>
<text x="442.20" y="160.50" font-size="12" fill="#111" text-anchor="start" font-weight="bold">e</text>
<line x1="473.50" y1="177.50" x2="473.50" y2="235.00" stroke="#7a7a7a" stroke-width="0.9"/>
<line x1="473.50" y1="243.80" x2="473.50" y2="301.30" stroke="#7a7a7a" stroke-width="0.9"/>
<line x1="468.20" y1="235.00" x2="476.60" y2="235.00" stroke="#7a7a7a" stroke-width="0.9"/>
<line x1="468.20" y1="243.80" x2="476.60" y2="243.80" stroke="#7a7a7a" stroke-width="0.9"/>
<line x1="468.20" y1="178.10" x2="473.50" y2="178.10" stroke="#7a7a7a" stroke-width="0.9"/>
<line x1="468.20" y1="206.50" x2="473.50" y2="206.50" stroke="#7a7a7a" stroke-width="0.9"/>
<line x1="468.20" y1="301.30" x2="473.50" y2="301.30" stroke="#7a7a7a" stroke-width="0.9"/>
<text x="464.20" y="180.10" font-size="7.8" fill="#333" text-anchor="end" font-weight="normal">20</text>
<text x="464.20" y="208.70" font-size="7.8" fill="#333" text-anchor="end" font-weight="normal">15</text>
<text x="464.20" y="237.40" font-size="7.8" fill="#333" text-anchor="end" font-weight="normal">10</text>
<text x="464.20" y="248.20" font-size="7.8" fill="#333" text-anchor="end" font-weight="normal">5</text>
<text x="464.20" y="304.00" font-size="7.8" fill="#333" text-anchor="end" font-weight="normal">0</text>
<line x1="473.50" y1="301.30" x2="669.50" y2="301.30" stroke="#7a7a7a" stroke-width="0.9"/>
<line x1="473.50" y1="301.30" x2="473.50" y2="305.30" stroke="#7a7a7a" stroke-width="0.9"/>
<text x="473.50" y="316.10" font-size="7.8" fill="#333" text-anchor="middle" font-weight="normal">−0.8</text>
<line x1="501.50" y1="301.30" x2="501.50" y2="305.30" stroke="#7a7a7a" stroke-width="0.9"/>
<text x="501.50" y="316.10" font-size="7.8" fill="#333" text-anchor="middle" font-weight="normal">−0.6</text>
<line x1="529.50" y1="301.30" x2="529.50" y2="305.30" stroke="#7a7a7a" stroke-width="0.9"/>
<text x="529.50" y="316.10" font-size="7.8" fill="#333" text-anchor="middle" font-weight="normal">−0.4</text>
<line x1="557.50" y1="301.30" x2="557.50" y2="305.30" stroke="#7a7a7a" stroke-width="0.9"/>
<text x="557.50" y="316.10" font-size="7.8" fill="#333" text-anchor="middle" font-weight="normal">−0.2</text>
<line x1="585.50" y1="301.30" x2="585.50" y2="305.30" stroke="#7a7a7a" stroke-width="0.9"/>
<text x="585.50" y="316.10" font-size="7.8" fill="#333" text-anchor="middle" font-weight="normal">0</text>
<line x1="613.50" y1="301.30" x2="613.50" y2="305.30" stroke="#7a7a7a" stroke-width="0.9"/>
<text x="613.50" y="316.10" font-size="7.8" fill="#333" text-anchor="middle" font-weight="normal">0.2</text>
<line x1="641.50" y1="301.30" x2="641.50" y2="305.30" stroke="#7a7a7a" stroke-width="0.9"/>
<text x="641.50" y="316.10" font-size="7.8" fill="#333" text-anchor="middle" font-weight="normal">0.4</text>
<line x1="669.50" y1="301.30" x2="669.50" y2="305.30" stroke="#7a7a7a" stroke-width="0.9"/>
<text x="669.50" y="316.10" font-size="7.8" fill="#333" text-anchor="middle" font-weight="normal">0.6</text>
<text x="541.70" y="331.20" font-size="8.8" fill="#333" text-anchor="start" font-weight="normal" textLength="67" lengthAdjust="spacingAndGlyphs"><tspan font-style="italic">E</tspan> (V) vs Ag/AgCl</text>
<text transform="translate(449.5,244.8) rotate(-90)" font-size="8.8" fill="#333" text-anchor="middle" textLength="51.5" lengthAdjust="spacingAndGlyphs">Current (μA)</text>
<path d="M474.10,278.30 C474.62,278.13 476.18,278.07 477.20,277.30 C478.22,276.53 479.18,275.48 480.20,273.70 C481.22,271.92 482.27,269.32 483.30,266.60 C484.33,263.88 485.38,259.97 486.40,257.40 C487.42,254.83 488.47,252.53 489.40,251.20 C490.33,249.87 491.23,249.57 492.00,249.40 C492.77,249.23 493.32,249.38 494.00,250.20 C494.68,251.02 495.33,252.42 496.10,254.30 C496.87,256.18 497.67,259.20 498.60,261.50 C499.53,263.80 500.58,266.23 501.70,268.10 C502.82,269.97 503.93,271.50 505.30,272.70 C506.67,273.90 508.37,274.68 509.90,275.30 C511.43,275.92 513.73,276.22 514.50,276.40" stroke="#cfcfcf" stroke-width="1.05" fill="none" stroke-linejoin="round" stroke-linecap="butt"/>
<path d="M474.10,281.90 C474.78,281.65 476.83,281.60 478.20,280.40 C479.57,279.20 480.93,277.52 482.30,274.70 C483.67,271.88 485.05,267.23 486.40,263.50 C487.75,259.77 489.30,254.52 490.40,252.30 C491.50,250.08 492.15,250.03 493.00,250.20 C493.85,250.37 494.57,251.60 495.50,253.30 C496.43,255.00 497.40,257.85 498.60,260.40 C499.80,262.95 501.33,266.55 502.70,268.60 C504.07,270.65 505.10,271.50 506.80,272.70 C508.50,273.90 511.88,275.28 512.90,275.80" stroke="#cfcfcf" stroke-width="1.05" fill="none" stroke-dasharray="3,1.8" stroke-linejoin="round" stroke-linecap="butt"/>
<path d="M480.20,280.90 C480.72,281.07 482.10,281.98 483.30,281.90 C484.50,281.82 486.03,281.42 487.40,280.40 C488.77,279.38 490.32,277.93 491.50,275.80 C492.68,273.67 493.62,270.85 494.50,267.60 C495.38,264.35 496.12,260.27 496.80,256.30 C497.48,252.33 498.30,245.88 498.60,243.80" stroke="#9c9c9c" stroke-width="1.05" fill="none" stroke-linejoin="round" stroke-linecap="butt"/>
<path d="M510.40,243.80 C510.65,246.57 511.32,255.42 511.90,260.40 C512.48,265.38 513.05,269.95 513.90,273.70 C514.75,277.45 515.80,280.93 517.00,282.90 C518.20,284.87 519.77,284.95 521.10,285.50 C522.43,286.05 523.63,286.07 525.00,286.20 C526.37,286.33 528.58,286.28 529.30,286.30" stroke="#9c9c9c" stroke-width="1.05" fill="none" stroke-linejoin="round" stroke-linecap="butt"/>
<path d="M502.50,235.20 C502.72,233.48 503.43,228.37 503.80,224.90 C504.17,221.43 504.37,216.98 504.70,214.40 C505.03,211.82 505.45,209.40 505.80,209.40 C506.15,209.40 506.48,211.82 506.80,214.40 C507.12,216.98 507.37,221.43 507.70,224.90 C508.03,228.37 508.62,233.48 508.80,235.20" stroke="#9c9c9c" stroke-width="1.05" fill="none" stroke-linejoin="round" stroke-linecap="butt"/>
<path d="M480.20,280.40 C481.05,280.22 483.60,279.90 485.30,279.30 C487.00,278.70 488.95,278.23 490.40,276.80 C491.85,275.37 492.97,273.43 494.00,270.70 C495.03,267.97 495.83,264.83 496.60,260.40 C497.37,255.97 498.27,246.82 498.60,244.10" stroke="#9c9c9c" stroke-width="1.05" fill="none" stroke-dasharray="3,1.8" stroke-linejoin="round" stroke-linecap="butt"/>
<path d="M510.90,244.10 C511.23,248.18 512.13,263.15 512.90,268.60 C513.67,274.05 514.47,274.83 515.50,276.80 C516.53,278.77 517.65,279.58 519.10,280.40 C520.55,281.22 522.85,281.42 524.20,281.70 C525.55,281.98 526.70,282.03 527.20,282.10" stroke="#9c9c9c" stroke-width="1.05" fill="none" stroke-dasharray="3,1.8" stroke-linejoin="round" stroke-linecap="butt"/>
<path d="M503.20,235.20 C503.42,233.33 504.12,226.58 504.50,224.00 C504.88,221.42 505.15,219.70 505.50,219.70 C505.85,219.70 506.20,221.42 506.60,224.00 C507.00,226.58 507.68,233.33 507.90,235.20" stroke="#9c9c9c" stroke-width="1.05" fill="none" stroke-dasharray="3,1.8" stroke-linejoin="round" stroke-linecap="butt"/>
<path d="M501.70,276.30 C502.20,275.87 503.52,274.30 504.70,273.70 C505.88,273.10 507.43,273.20 508.80,272.70 C510.17,272.20 511.70,272.07 512.90,270.70 C514.10,269.33 514.98,266.80 516.00,264.50 C517.02,262.20 518.07,258.60 519.00,256.90 C519.93,255.20 520.83,254.57 521.60,254.30 C522.37,254.03 522.92,254.28 523.60,255.30 C524.28,256.32 524.93,257.83 525.70,260.40 C526.47,262.97 527.35,267.45 528.20,270.70 C529.05,273.95 529.93,277.70 530.80,279.90 C531.67,282.10 532.47,283.05 533.40,283.90 C534.33,284.75 535.90,284.82 536.40,285.00" stroke="#f4a597" stroke-width="1.05" fill="none" stroke-linejoin="round" stroke-linecap="butt"/>
<path d="M501.70,276.00 C502.88,275.45 506.77,273.93 508.80,272.70 C510.83,271.47 512.37,270.47 513.90,268.60 C515.43,266.73 516.80,263.03 518.00,261.50 C519.20,259.97 520.25,259.67 521.10,259.40 C521.95,259.13 522.33,259.05 523.10,259.90 C523.87,260.75 524.85,262.20 525.70,264.50 C526.55,266.80 527.27,270.63 528.20,273.70 C529.13,276.77 530.10,281.02 531.30,282.90 C532.50,284.78 534.72,284.65 535.40,285.00" stroke="#f4a597" stroke-width="1.05" fill="none" stroke-dasharray="3,1.8" stroke-linejoin="round" stroke-linecap="butt"/>
<path d="M529.00,286.60 C529.68,286.43 531.57,286.12 533.10,285.60 C534.63,285.08 536.68,284.18 538.20,283.50 C539.72,282.82 541.03,282.68 542.20,281.50 C543.37,280.32 544.27,278.93 545.20,276.40 C546.13,273.87 547.03,270.35 547.80,266.30 C548.57,262.25 549.25,255.85 549.80,252.10 C550.35,248.35 550.88,245.18 551.10,243.80" stroke="#f07f95" stroke-width="1.05" fill="none" stroke-linejoin="round" stroke-linecap="butt"/>
<path d="M565.50,243.80 C565.67,246.53 566.08,255.27 566.50,260.20 C566.92,265.13 567.32,269.68 568.00,273.40 C568.68,277.12 569.50,280.30 570.60,282.50 C571.70,284.70 573.08,285.62 574.60,286.60 C576.12,287.58 578.02,288.03 579.70,288.40 C581.38,288.77 583.87,288.73 584.70,288.80" stroke="#f07f95" stroke-width="1.05" fill="none" stroke-linejoin="round" stroke-linecap="butt"/>
<path d="M553.30,235.20 C553.52,233.48 554.20,229.47 554.60,224.90 C555.00,220.33 555.35,213.05 555.70,207.80 C556.05,202.55 556.37,197.00 556.70,193.40 C557.03,189.80 557.43,187.57 557.70,186.20 C557.97,184.83 558.02,184.98 558.30,185.20 C558.58,185.42 559.07,185.70 559.40,187.50 C559.73,189.30 559.98,191.95 560.30,196.00 C560.62,200.05 560.93,206.53 561.30,211.80 C561.67,217.07 562.17,223.70 562.50,227.60 C562.83,231.50 563.17,233.93 563.30,235.20" stroke="#f07f95" stroke-width="1.05" fill="none" stroke-linejoin="round" stroke-linecap="butt"/>
<path d="M529.00,284.50 C530.02,283.83 533.23,281.67 535.10,280.50 C536.97,279.33 538.52,278.85 540.20,277.50 C541.88,276.15 543.77,275.28 545.20,272.40 C546.63,269.52 547.82,264.25 548.80,260.20 C549.78,256.15 550.65,250.80 551.10,248.10 C551.55,245.40 551.43,244.68 551.50,244.00" stroke="#f07f95" stroke-width="1.05" fill="none" stroke-dasharray="3,1.8" stroke-linejoin="round" stroke-linecap="butt"/>
<path d="M563.00,244.00 C563.17,246.70 563.67,256.48 564.00,260.20 C564.33,263.92 564.58,264.10 565.00,266.30 C565.42,268.50 566.00,271.28 566.50,273.40 C567.00,275.52 567.33,277.40 568.00,279.00 C568.67,280.60 569.67,282.08 570.50,283.00 C571.33,283.92 572.58,284.25 573.00,284.50" stroke="#f07f95" stroke-width="1.05" fill="none" stroke-dasharray="3,1.8" stroke-linejoin="round" stroke-linecap="butt"/>
<path d="M555.00,235.20 C555.23,233.50 555.95,227.27 556.40,225.00 C556.85,222.73 557.27,221.60 557.70,221.60 C558.13,221.60 558.57,222.73 559.00,225.00 C559.43,227.27 560.08,233.50 560.30,235.20" stroke="#f07f95" stroke-width="1.05" fill="none" stroke-dasharray="3,1.8" stroke-linejoin="round" stroke-linecap="butt"/>
<path d="M550.30,270.40 C550.98,270.40 553.05,270.57 554.40,270.40 C555.75,270.23 557.23,269.65 558.40,269.40 C559.57,269.15 560.38,268.82 561.40,268.90 C562.42,268.98 563.48,269.32 564.50,269.90 C565.52,270.48 566.32,271.32 567.50,272.40 C568.68,273.48 570.25,275.30 571.60,276.40 C572.95,277.50 574.60,278.48 575.60,279.00 C576.60,279.52 577.27,279.42 577.60,279.50" stroke="#d95f86" stroke-width="1.05" fill="none" stroke-linejoin="round" stroke-linecap="butt"/>
<path d="M550.30,270.90 C551.15,271.15 553.72,271.82 555.40,272.40 C557.08,272.98 558.72,273.82 560.40,274.40 C562.08,274.98 563.80,275.30 565.50,275.90 C567.20,276.50 568.75,277.40 570.60,278.00 C572.45,278.60 575.60,279.25 576.60,279.50" stroke="#d95f86" stroke-width="1.05" fill="none" stroke-dasharray="3,1.8" stroke-linejoin="round" stroke-linecap="butt"/>
<path d="M592.00,292.40 C592.78,292.35 594.95,292.48 596.70,292.10 C598.45,291.72 600.55,290.82 602.50,290.10 C604.45,289.38 606.35,288.43 608.40,287.80 C610.45,287.17 612.67,286.40 614.80,286.30 C616.93,286.20 619.17,286.67 621.20,287.20 C623.23,287.73 625.05,288.77 627.00,289.50 C628.95,290.23 630.75,291.15 632.90,291.60 C635.05,292.05 637.67,292.12 639.90,292.20 C642.13,292.28 645.23,292.12 646.30,292.10" stroke="#c46a8f" stroke-width="1.05" fill="none" stroke-linejoin="round" stroke-linecap="butt"/>
<path d="M592.00,292.40 C593.17,292.35 596.67,292.42 599.00,292.10 C601.33,291.78 603.47,290.93 606.00,290.50 C608.53,290.07 611.47,289.47 614.20,289.50 C616.93,289.53 619.87,290.22 622.40,290.70 C624.93,291.18 626.87,292.05 629.40,292.40 C631.93,292.75 634.78,292.77 637.60,292.80 C640.42,292.83 644.85,292.63 646.30,292.60" stroke="#c46a8f" stroke-width="1.05" fill="none" stroke-dasharray="3,1.8" stroke-linejoin="round" stroke-linecap="butt"/>
<path d="M627.60,294.80 C628.28,294.22 630.43,292.95 631.70,291.30 C632.97,289.65 634.03,286.95 635.20,284.90 C636.37,282.85 637.53,280.43 638.70,279.00 C639.87,277.57 641.13,276.58 642.20,276.30 C643.27,276.02 644.12,276.27 645.10,277.30 C646.08,278.33 647.02,280.57 648.10,282.50 C649.18,284.43 650.25,287.25 651.60,288.90 C652.95,290.55 654.55,291.65 656.20,292.40 C657.85,293.15 660.62,293.23 661.50,293.40" stroke="#a778a9" stroke-width="1.05" fill="none" stroke-linejoin="round" stroke-linecap="butt"/>
<path d="M628.20,294.20 C629.17,293.23 632.25,290.53 634.00,288.40 C635.75,286.27 637.23,283.07 638.70,281.40 C640.17,279.73 641.63,278.60 642.80,278.40 C643.97,278.20 644.63,278.93 645.70,280.20 C646.77,281.47 647.83,284.10 649.20,286.00 C650.57,287.90 652.15,290.43 653.90,291.60 C655.65,292.77 658.73,292.77 659.70,293.00" stroke="#a778a9" stroke-width="1.05" fill="none" stroke-dasharray="3,1.8" stroke-linejoin="round" stroke-linecap="butt"/>
<line x1="478.40" y1="170.20" x2="492.80" y2="170.20" stroke="#9c9c9c" stroke-width="1.2" stroke-dasharray="3,2"/>
<line x1="478.40" y1="179.30" x2="492.80" y2="179.30" stroke="#9c9c9c" stroke-width="1.4"/>
<text x="499.50" y="172.60" font-size="7.7" fill="#333" text-anchor="start" font-weight="normal" textLength="184.5" lengthAdjust="spacingAndGlyphs">Without condensate (subsaturated solution, C &lt; C<tspan font-size="4.5" dy="1.3">sat</tspan><tspan dy="-1.3">)</tspan></text>
<text x="499.50" y="181.70" font-size="7.7" fill="#333" text-anchor="start" font-weight="normal">With condensate (C &gt; C<tspan font-size="4.5" dy="1.3">sat</tspan><tspan dy="-1.3">)</tspan></text>
<line x1="572.20" y1="197.80" x2="579.40" y2="197.80" stroke="#cfcfcf" stroke-width="1.2"/>
<text x="585.40" y="201.10" font-size="9.2" fill="#333" text-anchor="start" font-weight="normal">MV</text>
<line x1="608.50" y1="197.80" x2="615.70" y2="197.80" stroke="#9c9c9c" stroke-width="1.2"/>
<text x="621.70" y="201.10" font-size="9.2" fill="#333" text-anchor="start" font-weight="normal">NR</text>
<line x1="639.90" y1="197.80" x2="647.10" y2="197.80" stroke="#f4a597" stroke-width="1.2"/>
<text x="651.20" y="201.10" font-size="9.2" fill="#333" text-anchor="start" font-weight="normal">FMN</text>
<line x1="572.20" y1="214.20" x2="579.40" y2="214.20" stroke="#f07f95" stroke-width="1.2"/>
<text x="585.40" y="217.50" font-size="9.2" fill="#333" text-anchor="start" font-weight="normal">MB</text>
<line x1="608.90" y1="214.20" x2="616.10" y2="214.20" stroke="#d95f86" stroke-width="1.2"/>
<line x1="572.20" y1="230.10" x2="579.40" y2="230.10" stroke="#c46a8f" stroke-width="1.2"/>
<line x1="643.60" y1="230.10" x2="650.80" y2="230.10" stroke="#a778a9" stroke-width="1.2"/>
<text x="654.00" y="233.40" font-size="9.2" fill="#333" text-anchor="start" font-weight="normal">FcNBr</text>
<text x="621.70" y="217.50" font-size="9.2" fill="#333" text-anchor="start" font-weight="normal">[Ru(NH<tspan font-size="6.5" dy="2">2</tspan><tspan dy="-2">)</tspan><tspan font-size="6.5" dy="2">6</tspan><tspan dy="-2">]Cl</tspan><tspan font-size="6.5" dy="2">3</tspan></text>
<text x="584.40" y="233.40" font-size="9.2" fill="#333" text-anchor="start" font-weight="normal">K<tspan font-size="6.5" dy="2">3</tspan><tspan dy="-2">[Fe(CN)</tspan><tspan font-size="6.5" dy="2">6</tspan><tspan dy="-2">]</tspan></text>
<text x="3.50" y="372.80" font-size="12" fill="#111" text-anchor="start" font-weight="bold">f</text>
<path d="M22.8,369.8 L247.2,369.8 L247.2,510.2 L22.8,510.2 Z" stroke="#8a8a8a" stroke-width="0.9" fill="none"/>
<line x1="22.80" y1="510.20" x2="22.80" y2="515.50" stroke="#8a8a8a" stroke-width="0.9"/>
<text x="22.80" y="526.00" font-size="8.2" fill="#333" text-anchor="middle" font-weight="normal">330</text>
<line x1="97.50" y1="510.20" x2="97.50" y2="515.50" stroke="#8a8a8a" stroke-width="0.9"/>
<text x="97.50" y="526.00" font-size="8.2" fill="#333" text-anchor="middle" font-weight="normal">334</text>
<line x1="172.20" y1="510.20" x2="172.20" y2="515.50" stroke="#8a8a8a" stroke-width="0.9"/>
<text x="172.20" y="526.00" font-size="8.2" fill="#333" text-anchor="middle" font-weight="normal">338</text>
<line x1="246.90" y1="510.20" x2="246.90" y2="515.50" stroke="#8a8a8a" stroke-width="0.9"/>
<text x="246.90" y="526.00" font-size="8.2" fill="#333" text-anchor="middle" font-weight="normal">342</text>
<text x="97.30" y="540.30" font-size="9.4" fill="#333" text-anchor="start" font-weight="normal" textLength="80.7" lengthAdjust="spacingAndGlyphs">Magnetic field (mT)</text>
<text transform="translate(17.3,443.4) rotate(-90)" font-size="8.2" fill="#333" text-anchor="middle" textLength="60.4" lengthAdjust="spacingAndGlyphs">Intensity (a.u.)</text>
<text x="24.30" y="382.20" font-size="8.9" fill="#333" text-anchor="start" font-weight="normal" textLength="67.5" lengthAdjust="spacingAndGlyphs">TEMPO· (<tspan font-style="italic">e</tspan><tspan font-size="5.5" dy="-3.2">−</tspan><tspan dy="3.2"> trap)</tspan></text>
<path d="M23.30,388.59 L23.80,389.00 L24.30,388.80 L24.80,388.70 L25.30,388.97 L25.80,388.86 L26.30,389.39 L26.80,389.70 L27.30,389.56 L27.80,389.49 L28.30,389.76 L28.80,389.67 L29.30,389.70 L29.80,389.64 L30.30,389.77 L30.80,389.37 L31.30,389.79 L31.80,389.75 L32.30,389.36 L32.80,389.02 L33.30,389.11 L33.80,388.97 L34.30,389.41 L34.80,389.49 L35.30,389.58 L35.80,390.00 L36.30,390.25 L36.80,390.20 L37.30,390.18 L37.80,390.33 L38.30,390.32 L38.80,389.90 L39.30,389.36 L39.80,389.23 L40.30,389.34 L40.80,389.34 L41.30,389.12 L41.80,388.72 L42.30,389.00 L42.80,389.17 L43.30,389.26 L43.80,389.00 L44.30,389.10 L44.80,389.28 L45.30,389.54 L45.80,389.83 L46.30,390.15 L46.80,390.59 L47.30,390.64 L47.80,390.35 L48.30,390.32 L48.80,390.51 L49.30,390.49 L49.80,390.30 L50.30,390.10 L50.80,389.78 L51.30,390.24 L51.80,390.04 L52.30,389.57 L52.80,388.99 L53.30,389.19 L53.80,389.37 L54.30,389.29 L54.80,389.26 L55.30,389.15 L55.80,389.06 L56.30,389.21 L56.80,389.15 L57.30,389.07 L57.80,389.04 L58.30,388.91 L58.80,388.65 L59.30,389.04 L59.80,389.06 L60.30,389.14 L60.80,389.21 L61.30,389.52 L61.80,389.79 L62.30,389.96 L62.80,389.52 L63.30,389.70 L63.80,389.12 L64.30,388.58 L64.80,388.51 L65.30,388.24 L65.80,388.14 L66.30,388.11 L66.80,388.29 L67.30,388.48 L67.80,389.00 L68.30,389.34 L68.80,389.17 L69.30,389.38 L69.80,389.71 L70.30,389.55 L70.80,389.74 L71.30,389.46 L71.80,389.27 L72.30,389.66 L72.80,389.69 L73.30,389.62 L73.80,389.67 L74.30,389.43 L74.80,389.25 L75.30,389.49 L75.80,389.20 L76.30,389.23 L76.80,388.94 L77.30,388.72 L77.80,388.96 L78.30,388.76 L78.80,388.51 L79.30,388.58 L79.80,388.25 L80.30,388.67 L80.80,388.70 L81.30,388.77 L81.80,388.99 L82.30,389.05 L82.80,389.12 L83.30,389.09 L83.80,388.70 L84.30,388.85 L84.80,389.04 L85.30,388.97 L85.80,388.79 L86.30,388.69 L86.80,388.89 L87.30,389.10 L87.80,388.85 L88.30,388.44 L88.80,388.67 L89.30,388.56 L89.80,388.41 L90.30,388.72 L90.80,388.49 L91.30,388.66 L91.80,388.91 L92.30,388.71 L92.80,388.65 L93.30,388.94 L93.80,388.58 L94.30,388.68 L94.80,388.59 L95.30,388.56 L95.80,388.42 L96.30,388.48 L96.80,388.16 L97.30,388.56 L97.80,388.73 L98.30,389.02 L98.80,388.66 L99.30,388.81 L99.80,389.04 L100.30,389.41 L100.80,389.15 L101.30,389.00 L101.80,388.49 L102.30,388.74 L102.80,388.64 L103.30,388.74 L103.80,388.71 L104.30,388.52 L104.80,388.56 L105.30,389.02 L105.80,389.10 L106.30,389.52 L106.80,389.20 L107.30,388.71 L107.80,388.78 L108.30,389.14 L108.80,388.77 L109.30,388.56 L109.80,388.29 L110.30,388.34 L110.80,388.53 L111.30,388.96 L111.80,388.52 L112.30,388.33 L112.80,388.74 L113.30,389.05 L113.80,389.43 L114.30,389.43 L114.80,389.40 L115.30,389.82 L115.80,389.71 L116.30,389.07 L116.80,388.12 L117.30,386.40 L117.80,384.26 L118.30,381.02 L118.80,377.63 L119.30,375.17 L119.80,373.69 L120.30,374.74 L120.80,378.23 L121.30,384.24 L121.80,390.78 L122.30,397.26 L122.80,401.81 L123.30,404.12 L123.80,403.71 L124.30,401.88 L124.80,398.77 L125.30,395.87 L125.80,393.44 L126.30,391.44 L126.80,389.99 L127.30,389.26 L127.80,388.71 L128.30,388.46 L128.80,389.04 L129.30,388.92 L129.80,389.03 L130.30,388.99 L130.80,389.12 L131.30,389.09 L131.80,389.34 L132.30,388.93 L132.80,388.65 L133.30,388.78 L133.80,389.16 L134.30,388.69 L134.80,388.90 L135.30,388.99 L135.80,389.30 L136.30,389.73 L136.80,389.37 L137.30,389.23 L137.80,389.71 L138.30,389.20 L138.80,388.75 L139.30,388.38 L139.80,388.17 L140.30,388.45 L140.80,388.34 L141.30,388.28 L141.80,388.25 L142.30,388.10 L142.80,388.00 L143.30,387.72 L143.80,387.47 L144.30,387.82 L144.80,387.87 L145.30,387.92 L145.80,388.22 L146.30,388.33 L146.80,388.42 L147.30,388.52 L147.80,388.08 L148.30,387.47 L148.80,386.85 L149.30,385.29 L149.80,383.29 L150.30,380.52 L150.80,377.72 L151.30,375.18 L151.80,373.69 L152.30,374.21 L152.80,377.39 L153.30,382.78 L153.80,389.62 L154.30,395.99 L154.80,400.34 L155.30,402.82 L155.80,403.00 L156.30,401.21 L156.80,398.39 L157.30,395.44 L157.80,392.98 L158.30,391.27 L158.80,390.08 L159.30,389.33 L159.80,388.87 L160.30,388.83 L160.80,388.90 L161.30,388.44 L161.80,388.43 L162.30,388.24 L162.80,388.52 L163.30,388.99 L163.80,388.88 L164.30,389.02 L164.80,389.51 L165.30,389.40 L165.80,389.42 L166.30,388.90 L166.80,388.81 L167.30,389.01 L167.80,389.00 L168.30,389.00 L168.80,389.27 L169.30,389.45 L169.80,389.75 L170.30,389.27 L170.80,389.21 L171.30,388.60 L171.80,388.16 L172.30,388.23 L172.80,387.75 L173.30,387.43 L173.80,387.42 L174.30,387.62 L174.80,387.74 L175.30,387.65 L175.80,387.70 L176.30,387.75 L176.80,388.26 L177.30,388.65 L177.80,388.62 L178.30,389.14 L178.80,389.50 L179.30,389.42 L179.80,389.25 L180.30,388.94 L180.80,388.33 L181.30,387.32 L181.80,385.24 L182.30,383.17 L182.80,380.47 L183.30,377.50 L183.80,374.73 L184.30,373.75 L184.80,375.04 L185.30,378.89 L185.80,384.31 L186.30,390.54 L186.80,397.03 L187.30,401.55 L187.80,403.15 L188.30,402.21 L188.80,400.07 L189.30,397.23 L189.80,394.48 L190.30,391.79 L190.80,389.98 L191.30,389.35 L191.80,388.81 L192.30,388.76 L192.80,388.49 L193.30,388.62 L193.80,389.05 L194.30,389.16 L194.80,388.85 L195.30,388.89 L195.80,388.82 L196.30,389.32 L196.80,388.95 L197.30,388.49 L197.80,388.54 L198.30,388.81 L198.80,388.83 L199.30,388.69 L199.80,388.57 L200.30,388.59 L200.80,388.71 L201.30,388.33 L201.80,388.10 L202.30,387.96 L202.80,387.81 L203.30,387.79 L203.80,388.31 L204.30,388.33 L204.80,388.68 L205.30,388.56 L205.80,388.92 L206.30,389.16 L206.80,388.87 L207.30,388.36 L207.80,388.17 L208.30,388.02 L208.80,387.99 L209.30,387.52 L209.80,387.37 L210.30,387.40 L210.80,387.78 L211.30,387.86 L211.80,388.21 L212.30,388.28 L212.80,388.57 L213.30,388.64 L213.80,388.99 L214.30,389.02 L214.80,389.30 L215.30,388.95 L215.80,389.11 L216.30,389.28 L216.80,389.24 L217.30,389.16 L217.80,389.26 L218.30,389.19 L218.80,389.02 L219.30,388.68 L219.80,388.59 L220.30,388.77 L220.80,388.92 L221.30,388.85 L221.80,388.69 L222.30,388.66 L222.80,388.68 L223.30,388.31 L223.80,388.33 L224.30,388.26 L224.80,388.29 L225.30,388.29 L225.80,388.75 L226.30,388.79 L226.80,388.95 L227.30,388.96 L227.80,388.43 L228.30,387.88 L228.80,388.27 L229.30,387.88 L229.80,387.90 L230.30,388.01 L230.80,387.97 L231.30,387.91 L231.80,388.08 L232.30,387.80 L232.80,387.93 L233.30,387.83 L233.80,387.83 L234.30,388.02 L234.80,388.28 L235.30,388.42 L235.80,388.20 L236.30,388.06 L236.80,388.37 L237.30,388.04 L237.80,387.99 L238.30,388.34 L238.80,388.04 L239.30,388.60 L239.80,388.66 L240.30,388.73 L240.80,389.17 L241.30,388.77 L241.80,388.60 L242.30,388.98 L242.80,388.89 L243.30,388.81 L243.80,388.80 L244.30,388.93 L244.80,389.19 L245.30,389.09 L245.80,388.72 L246.30,388.50" stroke="#6ea7dd" stroke-width="1.15" fill="none" stroke-linejoin="round"/>
<path d="M23.30,429.49 L23.80,429.38 L24.30,429.52 L24.80,429.41 L25.30,429.39 L25.80,428.95 L26.30,428.64 L26.80,428.79 L27.30,428.84 L27.80,428.59 L28.30,428.15 L28.80,427.68 L29.30,427.80 L29.80,428.10 L30.30,428.46 L30.80,428.19 L31.30,428.34 L31.80,428.43 L32.30,428.70 L32.80,428.60 L33.30,427.97 L33.80,428.04 L34.30,428.07 L34.80,427.67 L35.30,428.25 L35.80,428.43 L36.30,428.54 L36.80,429.19 L37.30,428.97 L37.80,429.29 L38.30,429.28 L38.80,429.25 L39.30,429.12 L39.80,429.59 L40.30,429.54 L40.80,429.37 L41.30,429.16 L41.80,429.13 L42.30,428.58 L42.80,428.15 L43.30,427.69 L43.80,427.49 L44.30,427.29 L44.80,427.51 L45.30,427.62 L45.80,427.74 L46.30,428.25 L46.80,428.37 L47.30,428.18 L47.80,428.50 L48.30,428.52 L48.80,428.33 L49.30,428.78 L49.80,428.24 L50.30,428.42 L50.80,428.78 L51.30,428.46 L51.80,428.52 L52.30,428.73 L52.80,428.46 L53.30,428.45 L53.80,427.96 L54.30,427.51 L54.80,428.15 L55.30,427.74 L55.80,428.01 L56.30,428.25 L56.80,428.89 L57.30,429.09 L57.80,429.21 L58.30,428.91 L58.80,429.31 L59.30,428.86 L59.80,428.74 L60.30,428.64 L60.80,428.99 L61.30,428.77 L61.80,429.06 L62.30,428.59 L62.80,428.75 L63.30,428.65 L63.80,428.74 L64.30,428.38 L64.80,428.99 L65.30,428.71 L65.80,428.86 L66.30,428.84 L66.80,428.55 L67.30,427.97 L67.80,427.84 L68.30,427.67 L68.80,427.98 L69.30,427.88 L69.80,427.69 L70.30,428.25 L70.80,428.56 L71.30,428.73 L71.80,428.42 L72.30,428.15 L72.80,428.60 L73.30,428.88 L73.80,428.49 L74.30,428.16 L74.80,428.51 L75.30,428.37 L75.80,428.30 L76.30,428.31 L76.80,428.08 L77.30,428.30 L77.80,428.91 L78.30,428.71 L78.80,429.23 L79.30,428.96 L79.80,428.68 L80.30,428.70 L80.80,428.77 L81.30,428.32 L81.80,428.20 L82.30,428.34 L82.80,428.86 L83.30,429.23 L83.80,429.43 L84.30,429.19 L84.80,429.49 L85.30,429.50 L85.80,429.02 L86.30,428.71 L86.80,428.14 L87.30,428.08 L87.80,428.43 L88.30,428.58 L88.80,428.68 L89.30,428.83 L89.80,428.78 L90.30,428.74 L90.80,428.67 L91.30,428.52 L91.80,428.46 L92.30,428.28 L92.80,428.47 L93.30,428.77 L93.80,429.19 L94.30,429.45 L94.80,429.44 L95.30,429.09 L95.80,429.33 L96.30,428.98 L96.80,428.78 L97.30,428.83 L97.80,428.85 L98.30,428.53 L98.80,428.92 L99.30,428.89 L99.80,429.09 L100.30,428.76 L100.80,428.61 L101.30,428.31 L101.80,428.57 L102.30,428.23 L102.80,428.35 L103.30,428.39 L103.80,428.93 L104.30,428.79 L104.80,429.06 L105.30,429.11 L105.80,429.36 L106.30,429.04 L106.80,429.17 L107.30,429.22 L107.80,429.45 L108.30,429.68 L108.80,429.83 L109.30,429.61 L109.80,429.73 L110.30,429.27 L110.80,429.25 L111.30,429.42 L111.80,429.07 L112.30,428.89 L112.80,429.03 L113.30,429.16 L113.80,429.17 L114.30,429.13 L114.80,428.88 L115.30,429.01 L115.80,428.82 L116.30,428.74 L116.80,428.75 L117.30,428.99 L117.80,428.79 L118.30,428.07 L118.80,427.05 L119.30,425.90 L119.80,424.10 L120.30,421.20 L120.80,418.22 L121.30,415.20 L121.80,413.16 L122.30,413.17 L122.80,415.32 L123.30,419.72 L123.80,426.17 L124.30,432.74 L124.80,438.05 L125.30,441.50 L125.80,441.95 L126.30,440.70 L126.80,438.21 L127.30,435.46 L127.80,432.89 L128.30,430.82 L128.80,429.90 L129.30,429.03 L129.80,428.54 L130.30,428.24 L130.80,428.01 L131.30,427.64 L131.80,428.03 L132.30,427.66 L132.80,427.68 L133.30,427.83 L133.80,427.70 L134.30,427.79 L134.80,427.94 L135.30,427.77 L135.80,428.17 L136.30,428.71 L136.80,428.57 L137.30,429.06 L137.80,429.13 L138.30,429.15 L138.80,428.85 L139.30,428.60 L139.80,428.42 L140.30,428.79 L140.80,428.90 L141.30,428.87 L141.80,428.86 L142.30,429.37 L142.80,428.96 L143.30,428.65 L143.80,428.38 L144.30,428.14 L144.80,427.82 L145.30,428.01 L145.80,428.00 L146.30,428.26 L146.80,428.48 L147.30,428.25 L147.80,428.02 L148.30,428.58 L148.80,428.39 L149.30,428.38 L149.80,428.61 L150.30,428.43 L150.80,427.87 L151.30,427.31 L151.80,425.32 L152.30,422.99 L152.80,419.64 L153.30,416.70 L153.80,414.35 L154.30,413.74 L154.80,415.14 L155.30,419.17 L155.80,425.50 L156.30,432.38 L156.80,437.79 L157.30,441.80 L157.80,443.40 L158.30,442.05 L158.80,439.84 L159.30,436.57 L159.80,434.09 L160.30,432.20 L160.80,430.31 L161.30,429.00 L161.80,428.58 L162.30,428.64 L162.80,428.54 L163.30,428.27 L163.80,428.04 L164.30,428.30 L164.80,428.53 L165.30,428.93 L165.80,428.34 L166.30,428.65 L166.80,428.44 L167.30,428.48 L167.80,428.27 L168.30,428.06 L168.80,427.91 L169.30,428.15 L169.80,427.87 L170.30,428.18 L170.80,428.21 L171.30,428.01 L171.80,427.98 L172.30,427.93 L172.80,428.23 L173.30,428.59 L173.80,428.46 L174.30,428.06 L174.80,428.57 L175.30,428.69 L175.80,428.77 L176.30,428.63 L176.80,428.45 L177.30,428.41 L177.80,429.02 L178.30,428.75 L178.80,428.72 L179.30,428.91 L179.80,428.56 L180.30,428.33 L180.80,428.56 L181.30,427.95 L181.80,428.20 L182.30,428.27 L182.80,427.69 L183.30,427.16 L183.80,426.44 L184.30,424.82 L184.80,422.48 L185.30,419.29 L185.80,416.16 L186.30,413.89 L186.80,413.28 L187.30,414.63 L187.80,418.75 L188.30,425.47 L188.80,432.08 L189.30,437.83 L189.80,441.90 L190.30,443.47 L190.80,442.78 L191.30,439.86 L191.80,436.73 L192.30,434.50 L192.80,432.78 L193.30,431.15 L193.80,429.70 L194.30,429.30 L194.80,429.18 L195.30,429.01 L195.80,428.94 L196.30,428.73 L196.80,428.33 L197.30,428.49 L197.80,428.54 L198.30,428.50 L198.80,428.47 L199.30,428.10 L199.80,427.72 L200.30,428.06 L200.80,427.88 L201.30,427.33 L201.80,427.48 L202.30,427.11 L202.80,426.87 L203.30,427.15 L203.80,427.23 L204.30,427.80 L204.80,427.82 L205.30,427.86 L205.80,428.02 L206.30,428.39 L206.80,428.33 L207.30,428.47 L207.80,428.12 L208.30,428.07 L208.80,428.25 L209.30,428.13 L209.80,428.15 L210.30,428.16 L210.80,428.14 L211.30,428.27 L211.80,428.65 L212.30,428.36 L212.80,428.63 L213.30,428.37 L213.80,428.54 L214.30,428.27 L214.80,427.98 L215.30,427.71 L215.80,427.78 L216.30,427.91 L216.80,427.86 L217.30,427.83 L217.80,427.92 L218.30,427.89 L218.80,428.19 L219.30,427.99 L219.80,427.57 L220.30,427.86 L220.80,427.53 L221.30,427.68 L221.80,427.95 L222.30,427.71 L222.80,428.20 L223.30,428.13 L223.80,428.22 L224.30,428.09 L224.80,427.59 L225.30,427.92 L225.80,428.16 L226.30,427.77 L226.80,427.82 L227.30,427.99 L227.80,428.41 L228.30,428.87 L228.80,428.31 L229.30,428.27 L229.80,428.36 L230.30,428.44 L230.80,428.00 L231.30,427.97 L231.80,427.64 L232.30,427.81 L232.80,427.47 L233.30,427.80 L233.80,428.08 L234.30,428.41 L234.80,428.28 L235.30,428.62 L235.80,428.71 L236.30,429.03 L236.80,428.85 L237.30,428.91 L237.80,428.63 L238.30,428.40 L238.80,427.84 L239.30,427.62 L239.80,427.24 L240.30,427.45 L240.80,427.28 L241.30,427.53 L241.80,427.46 L242.30,427.76 L242.80,428.23 L243.30,428.62 L243.80,428.31 L244.30,428.30 L244.80,427.84 L245.30,427.95 L245.80,427.73 L246.30,427.38" stroke="#a4a4a4" stroke-width="1.15" fill="none" stroke-linejoin="round"/>
<path d="M23.30,462.18 L23.80,462.30 L24.30,462.22 L24.80,462.07 L25.30,462.07 L25.80,461.76 L26.30,461.80 L26.80,462.33 L27.30,462.06 L27.80,462.19 L28.30,462.32 L28.80,462.92 L29.30,463.25 L29.80,463.23 L30.30,463.33 L30.80,463.28 L31.30,463.71 L31.80,463.48 L32.30,462.92 L32.80,462.61 L33.30,462.54 L33.80,462.43 L34.30,462.52 L34.80,462.33 L35.30,462.57 L35.80,462.72 L36.30,463.02 L36.80,462.85 L37.30,462.33 L37.80,462.34 L38.30,462.41 L38.80,462.26 L39.30,462.22 L39.80,462.24 L40.30,462.51 L40.80,462.67 L41.30,463.07 L41.80,463.08 L42.30,462.96 L42.80,463.13 L43.30,463.09 L43.80,463.38 L44.30,463.67 L44.80,463.32 L45.30,463.51 L45.80,463.42 L46.30,463.32 L46.80,463.47 L47.30,462.97 L47.80,462.81 L48.30,462.64 L48.80,462.42 L49.30,462.86 L49.80,462.97 L50.30,463.05 L50.80,463.15 L51.30,463.29 L51.80,463.67 L52.30,463.61 L52.80,463.40 L53.30,463.58 L53.80,463.62 L54.30,463.73 L54.80,463.71 L55.30,463.34 L55.80,463.42 L56.30,463.55 L56.80,463.66 L57.30,463.57 L57.80,463.44 L58.30,463.25 L58.80,463.66 L59.30,463.19 L59.80,463.06 L60.30,462.50 L60.80,462.01 L61.30,461.85 L61.80,462.12 L62.30,461.74 L62.80,461.90 L63.30,461.85 L63.80,462.33 L64.30,462.30 L64.80,462.57 L65.30,462.41 L65.80,462.93 L66.30,463.32 L66.80,463.64 L67.30,463.23 L67.80,463.46 L68.30,463.40 L68.80,463.62 L69.30,463.67 L69.80,463.21 L70.30,462.74 L70.80,462.71 L71.30,462.58 L71.80,462.66 L72.30,462.46 L72.80,461.98 L73.30,461.88 L73.80,462.04 L74.30,462.14 L74.80,462.36 L75.30,462.68 L75.80,462.75 L76.30,462.92 L76.80,463.34 L77.30,463.52 L77.80,463.30 L78.30,463.52 L78.80,463.40 L79.30,463.53 L79.80,463.72 L80.30,463.56 L80.80,463.37 L81.30,463.40 L81.80,463.22 L82.30,462.73 L82.80,462.17 L83.30,461.77 L83.80,461.61 L84.30,461.56 L84.80,461.53 L85.30,461.09 L85.80,461.15 L86.30,461.17 L86.80,461.28 L87.30,461.18 L87.80,461.54 L88.30,461.93 L88.80,462.03 L89.30,462.10 L89.80,462.26 L90.30,462.26 L90.80,462.33 L91.30,462.31 L91.80,462.56 L92.30,462.78 L92.80,462.94 L93.30,462.76 L93.80,462.57 L94.30,462.72 L94.80,462.32 L95.30,462.21 L95.80,462.00 L96.30,461.68 L96.80,462.27 L97.30,462.56 L97.80,462.42 L98.30,462.61 L98.80,462.06 L99.30,462.31 L99.80,462.96 L100.30,462.90 L100.80,463.02 L101.30,463.09 L101.80,462.97 L102.30,463.06 L102.80,463.23 L103.30,462.92 L103.80,462.86 L104.30,462.61 L104.80,462.58 L105.30,462.88 L105.80,463.44 L106.30,463.50 L106.80,463.68 L107.30,463.71 L107.80,463.99 L108.30,463.99 L108.80,463.78 L109.30,463.35 L109.80,462.79 L110.30,462.25 L110.80,461.88 L111.30,461.55 L111.80,461.86 L112.30,462.16 L112.80,462.22 L113.30,462.82 L113.80,463.45 L114.30,463.82 L114.80,463.72 L115.30,463.05 L115.80,461.95 L116.30,460.84 L116.80,459.05 L117.30,457.25 L117.80,455.69 L118.30,454.97 L118.80,455.04 L119.30,456.51 L119.80,459.39 L120.30,462.64 L120.80,466.17 L121.30,469.06 L121.80,470.73 L122.30,471.30 L122.80,470.45 L123.30,468.64 L123.80,467.54 L124.30,465.90 L124.80,464.74 L125.30,464.14 L125.80,463.47 L126.30,463.18 L126.80,463.59 L127.30,463.50 L127.80,463.36 L128.30,462.89 L128.80,462.32 L129.30,462.67 L129.80,462.95 L130.30,462.39 L130.80,462.46 L131.30,463.02 L131.80,463.38 L132.30,463.51 L132.80,463.27 L133.30,462.80 L133.80,462.71 L134.30,462.81 L134.80,462.58 L135.30,462.49 L135.80,462.88 L136.30,462.80 L136.80,463.31 L137.30,463.87 L137.80,463.34 L138.30,463.07 L138.80,462.91 L139.30,462.43 L139.80,462.53 L140.30,462.11 L140.80,461.83 L141.30,461.77 L141.80,462.22 L142.30,462.26 L142.80,462.41 L143.30,462.41 L143.80,462.85 L144.30,462.84 L144.80,463.38 L145.30,463.09 L145.80,463.20 L146.30,463.21 L146.80,462.74 L147.30,462.25 L147.80,461.75 L148.30,460.54 L148.80,459.83 L149.30,458.32 L149.80,456.78 L150.30,455.79 L150.80,454.84 L151.30,454.83 L151.80,456.33 L152.30,458.57 L152.80,462.24 L153.30,465.40 L153.80,468.10 L154.30,469.56 L154.80,469.90 L155.30,469.36 L155.80,467.97 L156.30,466.28 L156.80,465.35 L157.30,464.53 L157.80,463.96 L158.30,463.77 L158.80,463.36 L159.30,463.25 L159.80,463.28 L160.30,463.05 L160.80,462.78 L161.30,462.80 L161.80,463.03 L162.30,463.16 L162.80,463.40 L163.30,463.57 L163.80,463.44 L164.30,463.46 L164.80,463.77 L165.30,463.70 L165.80,463.31 L166.30,462.79 L166.80,462.45 L167.30,462.32 L167.80,462.10 L168.30,461.50 L168.80,461.38 L169.30,461.82 L169.80,462.35 L170.30,462.16 L170.80,462.59 L171.30,462.88 L171.80,462.93 L172.30,463.07 L172.80,463.20 L173.30,462.73 L173.80,463.27 L174.30,463.05 L174.80,462.93 L175.30,463.51 L175.80,463.48 L176.30,462.92 L176.80,463.06 L177.30,462.75 L177.80,462.69 L178.30,462.44 L178.80,461.87 L179.30,461.57 L179.80,461.06 L180.30,460.46 L180.80,459.38 L181.30,457.82 L181.80,456.41 L182.30,455.30 L182.80,454.46 L183.30,454.86 L183.80,456.78 L184.30,459.76 L184.80,463.73 L185.30,466.74 L185.80,468.83 L186.30,469.63 L186.80,470.02 L187.30,468.53 L187.80,466.63 L188.30,464.79 L188.80,464.11 L189.30,463.61 L189.80,463.19 L190.30,462.43 L190.80,462.71 L191.30,462.93 L191.80,463.08 L192.30,462.51 L192.80,461.98 L193.30,462.27 L193.80,462.45 L194.30,461.87 L194.80,462.12 L195.30,462.08 L195.80,462.56 L196.30,462.58 L196.80,462.69 L197.30,462.44 L197.80,462.98 L198.30,462.65 L198.80,462.45 L199.30,462.27 L199.80,462.85 L200.30,462.44 L200.80,462.49 L201.30,462.25 L201.80,462.10 L202.30,461.94 L202.80,461.67 L203.30,461.07 L203.80,461.02 L204.30,461.15 L204.80,460.99 L205.30,461.35 L205.80,461.47 L206.30,461.70 L206.80,461.79 L207.30,461.89 L207.80,461.68 L208.30,461.64 L208.80,461.13 L209.30,461.43 L209.80,461.47 L210.30,461.47 L210.80,461.56 L211.30,462.18 L211.80,462.08 L212.30,462.63 L212.80,462.43 L213.30,462.38 L213.80,462.83 L214.30,462.77 L214.80,462.47 L215.30,462.87 L215.80,462.98 L216.30,462.92 L216.80,463.15 L217.30,463.06 L217.80,463.22 L218.30,463.15 L218.80,462.91 L219.30,462.28 L219.80,462.13 L220.30,461.60 L220.80,461.63 L221.30,461.36 L221.80,461.20 L222.30,461.01 L222.80,461.55 L223.30,462.06 L223.80,462.47 L224.30,462.15 L224.80,462.14 L225.30,462.23 L225.80,462.48 L226.30,462.01 L226.80,461.72 L227.30,461.44 L227.80,461.90 L228.30,462.40 L228.80,462.57 L229.30,462.42 L229.80,462.98 L230.30,462.88 L230.80,462.94 L231.30,462.28 L231.80,461.88 L232.30,461.82 L232.80,462.00 L233.30,461.47 L233.80,461.61 L234.30,461.36 L234.80,461.54 L235.30,461.34 L235.80,461.29 L236.30,460.97 L236.80,460.84 L237.30,460.70 L237.80,460.86 L238.30,461.08 L238.80,461.38 L239.30,461.62 L239.80,462.04 L240.30,462.51 L240.80,462.90 L241.30,463.01 L241.80,462.83 L242.30,463.14 L242.80,462.73 L243.30,462.77 L243.80,462.72 L244.30,462.14 L244.80,462.45 L245.30,462.83 L245.80,462.59 L246.30,462.99" stroke="#ee6b6b" stroke-width="1.15" fill="none" stroke-linejoin="round"/>
<path d="M23.30,490.83 L23.80,490.56 L24.30,490.69 L24.80,491.01 L25.30,490.44 L25.80,490.70 L26.30,490.83 L26.80,490.52 L27.30,490.96 L27.80,490.69 L28.30,490.43 L28.80,490.47 L29.30,490.56 L29.80,490.71 L30.30,490.80 L30.80,490.83 L31.30,490.98 L31.80,491.33 L32.30,491.32 L32.80,491.17 L33.30,491.00 L33.80,491.09 L34.30,490.84 L34.80,490.64 L35.30,490.31 L35.80,490.38 L36.30,490.37 L36.80,490.46 L37.30,490.10 L37.80,490.41 L38.30,490.96 L38.80,490.81 L39.30,490.92 L39.80,491.06 L40.30,490.52 L40.80,490.67 L41.30,490.69 L41.80,490.16 L42.30,490.53 L42.80,490.35 L43.30,490.41 L43.80,491.00 L44.30,490.85 L44.80,490.23 L45.30,490.21 L45.80,490.17 L46.30,490.09 L46.80,489.75 L47.30,489.48 L47.80,489.97 L48.30,490.25 L48.80,490.46 L49.30,490.52 L49.80,490.57 L50.30,490.91 L50.80,490.69 L51.30,490.47 L51.80,490.84 L52.30,490.60 L52.80,490.54 L53.30,490.89 L53.80,490.59 L54.30,490.66 L54.80,490.92 L55.30,490.94 L55.80,490.99 L56.30,491.09 L56.80,491.32 L57.30,491.38 L57.80,491.61 L58.30,490.96 L58.80,490.52 L59.30,490.90 L59.80,490.82 L60.30,490.69 L60.80,490.59 L61.30,490.41 L61.80,490.97 L62.30,491.11 L62.80,490.96 L63.30,490.83 L63.80,490.97 L64.30,491.30 L64.80,491.07 L65.30,491.03 L65.80,490.85 L66.30,490.84 L66.80,490.70 L67.30,490.33 L67.80,490.16 L68.30,490.20 L68.80,490.08 L69.30,489.93 L69.80,490.17 L70.30,490.03 L70.80,490.26 L71.30,490.59 L71.80,490.87 L72.30,490.92 L72.80,491.02 L73.30,490.99 L73.80,491.26 L74.30,490.88 L74.80,490.98 L75.30,490.92 L75.80,490.68 L76.30,491.10 L76.80,490.84 L77.30,491.01 L77.80,490.97 L78.30,490.88 L78.80,490.78 L79.30,490.56 L79.80,490.63 L80.30,490.50 L80.80,490.69 L81.30,491.24 L81.80,491.08 L82.30,490.91 L82.80,490.91 L83.30,490.38 L83.80,490.53 L84.30,490.30 L84.80,490.28 L85.30,490.11 L85.80,490.19 L86.30,490.53 L86.80,490.48 L87.30,490.27 L87.80,490.23 L88.30,490.05 L88.80,489.85 L89.30,490.06 L89.80,490.15 L90.30,490.58 L90.80,490.78 L91.30,491.00 L91.80,490.64 L92.30,491.08 L92.80,491.30 L93.30,491.42 L93.80,491.23 L94.30,491.04 L94.80,490.46 L95.30,490.70 L95.80,490.33 L96.30,490.23 L96.80,489.68 L97.30,489.88 L97.80,489.96 L98.30,489.93 L98.80,489.69 L99.30,489.88 L99.80,489.83 L100.30,490.03 L100.80,489.62 L101.30,489.79 L101.80,490.43 L102.30,490.67 L102.80,491.00 L103.30,490.64 L103.80,491.05 L104.30,491.54 L104.80,491.58 L105.30,491.29 L105.80,491.29 L106.30,491.26 L106.80,491.29 L107.30,491.04 L107.80,490.80 L108.30,490.63 L108.80,490.77 L109.30,490.89 L109.80,490.34 L110.30,490.77 L110.80,490.64 L111.30,490.60 L111.80,490.83 L112.30,490.37 L112.80,490.28 L113.30,490.47 L113.80,490.59 L114.30,490.43 L114.80,490.66 L115.30,490.72 L115.80,491.11 L116.30,491.29 L116.80,491.05 L117.30,490.84 L117.80,491.05 L118.30,490.84 L118.80,490.40 L119.30,489.61 L119.80,488.47 L120.30,487.92 L120.80,486.50 L121.30,485.03 L121.80,484.11 L122.30,484.26 L122.80,485.70 L123.30,487.65 L123.80,490.32 L124.30,492.86 L124.80,495.07 L125.30,495.53 L125.80,495.61 L126.30,494.75 L126.80,494.25 L127.30,493.31 L127.80,492.82 L128.30,491.80 L128.80,491.71 L129.30,491.05 L129.80,491.10 L130.30,490.52 L130.80,489.98 L131.30,489.48 L131.80,489.49 L132.30,489.89 L132.80,490.40 L133.30,490.12 L133.80,490.49 L134.30,490.66 L134.80,490.94 L135.30,491.11 L135.80,490.90 L136.30,490.39 L136.80,490.30 L137.30,490.15 L137.80,489.96 L138.30,489.90 L138.80,490.29 L139.30,489.87 L139.80,489.78 L140.30,490.15 L140.80,489.83 L141.30,489.87 L141.80,490.15 L142.30,489.91 L142.80,490.05 L143.30,490.01 L143.80,489.65 L144.30,489.81 L144.80,490.19 L145.30,490.27 L145.80,490.39 L146.30,490.86 L146.80,491.45 L147.30,491.86 L147.80,492.29 L148.30,492.40 L148.80,491.78 L149.30,491.43 L149.80,490.92 L150.30,490.56 L150.80,490.03 L151.30,489.17 L151.80,488.36 L152.30,487.61 L152.80,486.46 L153.30,485.57 L153.80,485.09 L154.30,485.63 L154.80,487.20 L155.30,489.08 L155.80,491.33 L156.30,493.50 L156.80,494.76 L157.30,494.84 L157.80,494.27 L158.30,493.04 L158.80,492.16 L159.30,491.56 L159.80,490.71 L160.30,490.50 L160.80,490.38 L161.30,490.20 L161.80,490.43 L162.30,490.44 L162.80,490.58 L163.30,490.99 L163.80,490.70 L164.30,490.84 L164.80,490.76 L165.30,490.35 L165.80,490.21 L166.30,489.92 L166.80,490.01 L167.30,490.09 L167.80,490.28 L168.30,490.40 L168.80,490.46 L169.30,490.57 L169.80,490.44 L170.30,490.21 L170.80,490.03 L171.30,489.47 L171.80,489.74 L172.30,489.70 L172.80,489.31 L173.30,489.22 L173.80,488.92 L174.30,489.44 L174.80,490.11 L175.30,489.92 L175.80,490.16 L176.30,490.66 L176.80,490.90 L177.30,490.92 L177.80,490.83 L178.30,490.39 L178.80,490.13 L179.30,490.07 L179.80,489.73 L180.30,489.50 L180.80,489.82 L181.30,489.92 L181.80,490.01 L182.30,489.71 L182.80,489.72 L183.30,489.05 L183.80,488.59 L184.30,487.84 L184.80,486.65 L185.30,485.91 L185.80,485.90 L186.30,485.89 L186.80,487.21 L187.30,489.23 L187.80,491.49 L188.30,493.34 L188.80,494.36 L189.30,494.82 L189.80,494.48 L190.30,493.89 L190.80,492.88 L191.30,492.09 L191.80,491.23 L192.30,490.66 L192.80,490.42 L193.30,490.50 L193.80,490.09 L194.30,489.78 L194.80,489.28 L195.30,489.63 L195.80,490.11 L196.30,489.73 L196.80,489.40 L197.30,489.81 L197.80,490.00 L198.30,490.43 L198.80,490.75 L199.30,490.77 L199.80,491.11 L200.30,491.31 L200.80,490.87 L201.30,491.14 L201.80,490.83 L202.30,490.46 L202.80,490.25 L203.30,490.41 L203.80,490.45 L204.30,491.04 L204.80,491.14 L205.30,490.93 L205.80,490.85 L206.30,491.02 L206.80,490.89 L207.30,491.17 L207.80,490.66 L208.30,490.36 L208.80,490.94 L209.30,491.07 L209.80,490.92 L210.30,491.06 L210.80,490.51 L211.30,490.42 L211.80,490.64 L212.30,490.39 L212.80,490.16 L213.30,490.27 L213.80,489.79 L214.30,489.76 L214.80,489.92 L215.30,489.36 L215.80,489.24 L216.30,489.63 L216.80,489.37 L217.30,489.83 L217.80,489.77 L218.30,489.68 L218.80,489.75 L219.30,489.87 L219.80,489.47 L220.30,489.61 L220.80,489.31 L221.30,489.67 L221.80,490.13 L222.30,490.57 L222.80,490.81 L223.30,490.78 L223.80,490.58 L224.30,490.87 L224.80,490.74 L225.30,490.36 L225.80,490.15 L226.30,489.63 L226.80,490.11 L227.30,490.28 L227.80,489.69 L228.30,490.07 L228.80,490.23 L229.30,490.07 L229.80,490.37 L230.30,490.44 L230.80,490.24 L231.30,490.18 L231.80,489.65 L232.30,489.33 L232.80,489.52 L233.30,489.31 L233.80,489.24 L234.30,489.14 L234.80,489.14 L235.30,489.32 L235.80,489.36 L236.30,489.21 L236.80,489.15 L237.30,488.68 L237.80,488.98 L238.30,489.61 L238.80,489.54 L239.30,489.89 L239.80,489.90 L240.30,490.37 L240.80,490.62 L241.30,490.20 L241.80,490.07 L242.30,489.96 L242.80,489.55 L243.30,489.34 L243.80,489.28 L244.30,489.39 L244.80,489.61 L245.30,489.48 L245.80,489.82 L246.30,489.84" stroke="#e988b8" stroke-width="1.15" fill="none" stroke-linejoin="round"/>
<rect x="161.20" y="404.50" width="82.50" height="8.90" fill="none" stroke="#a8a8a8" stroke-width="0.75" stroke-dasharray="2.6,1.8"/>
<text x="164.50" y="411.20" font-size="6.3" fill="#333" text-anchor="start" font-weight="normal" textLength="76.5" lengthAdjust="spacingAndGlyphs">Without condensates (20 min)</text>
<text x="175.20" y="450.60" font-size="6.3" fill="#333" text-anchor="start" font-weight="normal" textLength="66.8" lengthAdjust="spacingAndGlyphs">With condensates (0 min)</text>
<rect x="161.00" y="471.50" width="82.60" height="10.00" fill="none" stroke="#a8a8a8" stroke-width="0.75" stroke-dasharray="2.6,1.8"/>
<text x="170.50" y="478.80" font-size="6.3" fill="#333" text-anchor="start" font-weight="normal" textLength="70.5" lengthAdjust="spacingAndGlyphs">With condensates (20 min)</text>
<text x="151.10" y="507.30" font-size="6.3" fill="#333" text-anchor="start" font-weight="normal" textLength="93.1" lengthAdjust="spacingAndGlyphs">Dissolution of condensates (20 min)</text>
<path d="M243.7,404.5 L259.3,396.5 M243.7,413.4 L259.3,421.5" stroke="#b8b8b8" stroke-width="0.6" fill="none" stroke-dasharray="2,1.6"/>
<path d="M243.6,471.5 L259.4,466.0 M243.6,481.5 L259.4,491.0" stroke="#b8b8b8" stroke-width="0.6" fill="none" stroke-dasharray="2,1.6"/>
<rect x="259.30" y="373.00" width="68.60" height="68.60" fill="none" stroke="#b0b0b0" stroke-width="0.75" stroke-dasharray="2.6,1.8"/>
<rect x="261.30" y="375.00" width="64.60" height="64.30" fill="#898a8e" stroke="none" stroke-width="1"/>
<rect x="302.10" y="434.90" width="22.00" height="2.60" fill="#fff" stroke="none" stroke-width="1"/>
<rect x="259.40" y="446.60" width="67.80" height="66.70" fill="none" stroke="#b0b0b0" stroke-width="0.75" stroke-dasharray="2.6,1.8"/>
<rect x="261.20" y="448.10" width="64.50" height="64.10" fill="#8c8d91" stroke="none" stroke-width="1"/>
<circle cx="285.20" cy="463.60" r="2.4" fill="#999a9e" stroke="#606165" stroke-width="0.75"/>
<circle cx="284.84" cy="463.84" r="1.32" fill="#b4b5b8" stroke="none" stroke-width="1" opacity="0.8"/>
<path d="M285.62,461.24 A2.40,2.40 0 0 1 287.56,464.02" stroke="#e8e8e8" stroke-width="0.7" fill="none"/>
<circle cx="283.00" cy="480.00" r="2.5" fill="#999a9e" stroke="#606165" stroke-width="0.75"/>
<circle cx="282.62" cy="480.25" r="1.375" fill="#b4b5b8" stroke="none" stroke-width="1" opacity="0.8"/>
<path d="M283.43,477.54 A2.50,2.50 0 0 1 285.46,480.43" stroke="#e8e8e8" stroke-width="0.7" fill="none"/>
<circle cx="303.60" cy="482.40" r="3.0" fill="#999a9e" stroke="#606165" stroke-width="0.75"/>
<circle cx="303.15" cy="482.70" r="1.6500000000000001" fill="#b4b5b8" stroke="none" stroke-width="1" opacity="0.8"/>
<path d="M304.12,479.45 A3.00,3.00 0 0 1 306.55,482.92" stroke="#e8e8e8" stroke-width="0.7" fill="none"/>
<circle cx="269.70" cy="500.40" r="3.3" fill="#999a9e" stroke="#606165" stroke-width="0.75"/>
<circle cx="269.20" cy="500.73" r="1.815" fill="#b4b5b8" stroke="none" stroke-width="1" opacity="0.8"/>
<path d="M270.27,497.15 A3.30,3.30 0 0 1 272.95,500.97" stroke="#e8e8e8" stroke-width="0.7" fill="none"/>
<circle cx="296.20" cy="496.40" r="2.4" fill="#999a9e" stroke="#606165" stroke-width="0.75"/>
<circle cx="295.84" cy="496.64" r="1.32" fill="#b4b5b8" stroke="none" stroke-width="1" opacity="0.8"/>
<path d="M296.62,494.04 A2.40,2.40 0 0 1 298.56,496.82" stroke="#e8e8e8" stroke-width="0.7" fill="none"/>
<circle cx="313.60" cy="494.20" r="1.8" fill="#999a9e" stroke="#606165" stroke-width="0.75"/>
<circle cx="313.33" cy="494.38" r="0.9900000000000001" fill="#b4b5b8" stroke="none" stroke-width="1" opacity="0.8"/>
<path d="M313.91,492.43 A1.80,1.80 0 0 1 315.37,494.51" stroke="#e8e8e8" stroke-width="0.7" fill="none"/>
<circle cx="319.10" cy="495.70" r="3.4" fill="#999a9e" stroke="#606165" stroke-width="0.75"/>
<circle cx="318.59" cy="496.04" r="1.87" fill="#b4b5b8" stroke="none" stroke-width="1" opacity="0.8"/>
<path d="M319.69,492.35 A3.40,3.40 0 0 1 322.45,496.29" stroke="#e8e8e8" stroke-width="0.7" fill="none"/>
<rect x="301.80" y="508.20" width="22.10" height="2.80" fill="#fff" stroke="none" stroke-width="1"/>
<circle cx="300.70" cy="501.10" r="3.6" fill="#858585" stroke="none" stroke-width="1" opacity="0.7"/>
<text x="341.50" y="370.50" font-size="12" fill="#111" text-anchor="start" font-weight="bold">g</text>
<path d="M357.7,369.8 L582.9,369.8 L582.9,510.6 L357.7,510.6 Z" stroke="#8a8a8a" stroke-width="0.9" fill="none"/>
<line x1="357.70" y1="510.60" x2="357.70" y2="515.80" stroke="#8a8a8a" stroke-width="0.9"/>
<text x="357.70" y="526.00" font-size="8.9" fill="#333" text-anchor="middle" font-weight="normal">332</text>
<line x1="470.30" y1="510.60" x2="470.30" y2="515.80" stroke="#8a8a8a" stroke-width="0.9"/>
<text x="470.30" y="526.00" font-size="8.9" fill="#333" text-anchor="middle" font-weight="normal">337</text>
<line x1="582.90" y1="510.60" x2="582.90" y2="515.80" stroke="#8a8a8a" stroke-width="0.9"/>
<text x="582.90" y="526.00" font-size="8.9" fill="#333" text-anchor="middle" font-weight="normal">342</text>
<text x="437.00" y="537.90" font-size="9.4" fill="#333" text-anchor="start" font-weight="normal" textLength="80.7" lengthAdjust="spacingAndGlyphs">Magnetic field (mT)</text>
<text transform="translate(352.0,441.4) rotate(-90)" font-size="8.2" fill="#333" text-anchor="middle" textLength="61.4" lengthAdjust="spacingAndGlyphs">Intensity (a.u.)</text>
<circle cx="390.40" cy="377.50" r="2.5" fill="#e0413b" stroke="none" stroke-width="1"/>
<text x="396.40" y="380.90" font-size="9.2" fill="#333" text-anchor="start" font-weight="normal" textLength="69.9" lengthAdjust="spacingAndGlyphs">DMPO (HO· trap)</text>
<circle cx="485.50" cy="377.50" r="2.5" fill="#2e9fd9" stroke="none" stroke-width="1"/>
<text x="493.30" y="381.00" font-size="9.2" fill="#333" text-anchor="start" font-weight="normal" textLength="62.3" lengthAdjust="spacingAndGlyphs">DMPO (C· trap)</text>
<path d="M357.90,394.00 L358.29,393.26 L359.20,392.28 L359.59,392.13 L360.06,392.14 L360.60,392.20 L361.17,391.78 L361.76,391.62 L362.34,391.80 L362.89,391.67 L363.40,392.17 L364.02,392.55 L364.62,392.77 L365.19,392.76 L365.75,393.68 L366.28,393.90 L366.80,394.45 L367.39,394.66 L367.95,394.46 L368.48,393.78 L369.00,393.40 L369.50,392.82 L370.06,393.18 L370.56,393.70 L371.10,393.87 L371.80,394.14 L372.23,394.04 L372.70,393.81 L373.20,393.60 L373.73,393.56 L374.28,392.97 L374.85,392.96 L375.42,392.33 L376.00,392.03 L376.47,392.30 L376.96,392.40 L377.47,392.82 L377.98,393.11 L378.50,394.01 L379.02,394.32 L379.53,394.93 L380.04,395.15 L380.53,395.56 L381.00,395.48 L381.58,394.94 L382.16,394.59 L382.74,394.36 L383.31,393.81 L383.84,393.63 L384.34,393.86 L384.80,393.63 L385.20,393.28 L385.89,394.01 L386.30,394.63 L386.90,395.17 L387.36,394.98 L387.88,394.37 L388.45,393.62 L389.05,393.28 L389.67,392.78 L390.30,392.49 L390.78,392.61 L391.27,392.74 L391.78,392.63 L392.30,392.04 L392.82,392.05 L393.35,392.06 L393.88,392.12 L394.40,391.80 L394.93,391.89 L395.48,391.92 L396.04,392.41 L396.59,392.51 L397.14,393.06 L397.66,393.40 L398.15,393.44 L398.60,393.01 L399.20,393.32 L399.68,393.29 L400.12,393.13 L400.60,393.32 L401.20,393.63 L401.66,393.71 L402.17,393.90 L402.73,394.02 L403.30,394.33 L403.87,394.62 L404.42,394.52 L404.94,394.54 L405.40,394.61 L406.03,394.12 L406.56,393.46 L407.05,393.41 L407.52,392.76 L408.00,392.41 L408.61,392.80 L409.20,393.40 L409.79,393.42 L410.40,394.00 L410.91,393.95 L411.44,393.46 L411.96,392.98 L412.49,392.81 L413.00,392.36 L413.57,392.40 L414.10,392.51 L414.68,393.16 L415.40,394.17 L415.84,395.13 L416.34,396.21 L416.88,397.11 L417.44,398.16 L418.00,398.84 L418.56,399.68 L419.10,400.04 L419.60,400.37 L420.22,400.24 L420.83,399.91 L421.41,399.24 L421.96,398.76 L422.49,398.18 L423.00,397.60 L423.54,397.60 L424.02,397.47 L424.48,397.79 L424.96,398.01 L425.50,398.25 L426.02,397.61 L426.60,397.62 L427.19,397.60 L427.79,397.14 L428.37,396.78 L428.90,397.06 L429.47,397.19 L430.01,397.11 L430.51,397.46 L431.01,397.51 L431.50,397.76 L432.09,397.59 L432.65,396.93 L433.23,396.50 L433.90,396.20 L434.40,395.77 L434.93,395.82 L435.49,396.24 L436.07,397.13 L436.68,397.78 L437.30,397.93 L437.80,397.88 L438.33,397.74 L438.89,397.16 L439.46,396.49 L440.01,396.13 L440.55,395.56 L441.05,395.34 L441.50,395.36 L442.10,395.73 L442.60,396.10 L443.05,396.97 L443.50,397.72 L444.00,397.89 L444.46,397.81 L444.94,397.31 L445.43,396.56 L445.93,395.46 L446.45,395.01 L447.00,394.44 L447.49,395.01 L447.99,395.18 L448.51,396.02 L449.04,396.22 L449.59,396.61 L450.14,396.81 L450.70,397.12 L451.21,397.35 L451.75,397.35 L452.31,397.59 L452.87,397.62 L453.43,397.95 L453.96,397.39 L454.45,397.61 L454.90,397.73 L455.49,398.29 L455.98,398.94 L456.42,399.79 L456.87,400.47 L457.40,400.87 L457.91,400.88 L458.44,400.29 L458.99,400.52 L459.57,400.53 L460.18,400.21 L460.80,399.82 L461.29,400.20 L461.82,399.47 L462.37,398.57 L462.93,398.05 L463.48,398.04 L464.02,397.59 L464.53,397.56 L465.00,397.74 L465.57,397.61 L466.09,397.53 L466.57,397.41 L467.04,397.56 L467.51,397.49 L468.00,397.73 L468.49,397.37 L468.97,396.97 L469.45,396.74 L469.94,396.46 L470.45,396.49 L471.00,396.74 L471.50,397.08 L472.04,397.00 L472.59,396.90 L473.16,396.63 L473.72,396.39 L474.27,396.34 L474.80,396.73 L475.37,396.84 L475.90,397.22 L476.41,397.61 L476.95,398.03 L477.53,398.27 L478.20,398.85 L478.66,398.93 L479.16,399.02 L479.69,398.85 L480.25,398.67 L480.82,398.43 L481.38,398.27 L481.94,397.76 L482.47,397.76 L482.96,397.34 L483.40,397.22 L484.03,397.33 L484.57,397.91 L485.04,398.13 L485.50,398.06 L485.97,397.98 L486.50,397.65 L486.98,397.15 L487.47,396.35 L487.97,396.39 L488.48,395.91 L489.02,395.63 L489.59,395.81 L490.20,396.18 L490.66,396.23 L491.16,396.46 L491.69,397.15 L492.23,397.33 L492.78,397.34 L493.33,397.61 L493.87,398.29 L494.38,398.40 L494.86,398.34 L495.30,398.94 L495.94,398.94 L496.49,398.53 L496.99,398.36 L497.47,397.98 L497.96,397.53 L498.50,397.27 L499.01,397.41 L499.53,397.02 L500.07,397.17 L500.62,397.34 L501.16,397.51 L501.69,397.38 L502.20,397.52 L502.77,397.29 L503.32,396.56 L503.86,396.24 L504.40,395.88 L504.94,395.38 L505.50,395.67 L505.99,395.51 L506.49,395.75 L506.99,396.18 L507.49,396.53 L507.99,395.97 L508.50,396.33 L509.00,395.91 L509.50,395.80 L510.01,395.96 L510.51,396.29 L511.01,396.15 L511.51,396.63 L512.01,396.40 L512.50,396.17 L513.04,396.17 L513.55,396.46 L514.05,396.01 L514.57,395.71 L515.15,395.77 L515.80,395.93 L516.24,395.75 L516.70,395.68 L517.19,395.90 L517.71,395.87 L518.23,395.94 L518.77,395.99 L519.31,396.69 L519.84,397.30 L520.38,397.78 L520.90,398.06 L521.42,397.90 L521.94,397.67 L522.46,397.03 L522.98,396.82 L523.50,396.53 L524.02,396.81 L524.54,396.38 L525.06,396.24 L525.58,396.12 L526.10,396.05 L526.61,396.10 L527.13,396.51 L527.64,397.30 L528.15,397.36 L528.66,397.52 L529.16,397.72 L529.67,397.94 L530.18,398.09 L530.69,398.61 L531.20,398.53 L531.72,398.25 L532.24,398.16 L532.77,397.87 L533.31,397.04 L533.84,396.74 L534.36,396.30 L534.87,395.58 L535.37,395.11 L535.85,395.15 L536.30,395.23 L536.91,395.26 L537.48,395.42 L538.02,395.93 L538.53,396.12 L539.03,396.24 L539.52,396.80 L540.00,397.31 L540.53,397.06 L541.00,396.72 L541.46,396.89 L541.93,396.43 L542.47,395.80 L543.10,395.47 L543.54,395.58 L544.01,395.23 L544.51,394.95 L545.03,395.09 L545.58,394.90 L546.13,394.39 L546.68,394.28 L547.23,394.47 L547.77,394.45 L548.30,394.48 L548.81,394.50 L549.33,394.50 L549.84,394.66 L550.35,394.55 L550.86,394.86 L551.36,395.52 L551.87,395.46 L552.38,395.67 L552.89,396.10 L553.40,396.18 L553.91,395.71 L554.42,395.85 L554.93,395.82 L555.44,395.79 L555.95,395.94 L556.46,396.51 L556.97,396.54 L557.48,396.86 L557.99,396.90 L558.50,397.02 L559.02,396.73 L559.55,397.19 L560.08,396.84 L560.62,396.85 L561.16,396.61 L561.68,396.89 L562.19,396.34 L562.69,395.92 L563.16,395.60 L563.60,395.22 L564.26,395.09 L564.86,395.57 L565.40,396.00 L565.92,396.09 L566.45,396.23 L567.00,396.33 L567.48,396.26 L567.95,396.09 L568.41,396.45 L568.88,396.58 L569.38,396.38 L569.92,396.61 L570.50,396.96 L570.95,397.14 L571.44,397.37 L571.97,397.42 L572.51,397.03 L573.06,397.01 L573.61,396.89 L574.14,397.09 L574.66,397.51 L575.15,397.78 L575.60,397.66 L576.27,397.44 L576.86,397.03 L577.41,396.67 L577.93,396.25 L578.45,396.33 L579.00,396.36 L579.61,396.31 L580.26,396.81 L580.91,397.37 L581.52,397.90 L582.03,398.40 L582.40,399.05" stroke="#6aaee6" stroke-width="1.15" fill="none" stroke-linejoin="round"/>
<path d="M357.90,420.08 L358.24,419.60 L358.73,419.10 L359.29,418.34 L359.89,418.23 L360.44,418.02 L360.90,417.89 L361.47,418.42 L361.90,419.23 L362.60,419.69 L363.01,419.86 L363.50,419.88 L364.03,419.72 L364.60,419.99 L365.18,419.95 L365.75,419.27 L366.30,419.39 L366.80,419.42 L367.40,419.52 L367.96,420.03 L368.50,421.09 L369.03,421.18 L369.55,421.61 L370.10,421.52 L370.67,421.37 L371.24,420.84 L371.82,420.41 L372.39,419.53 L372.96,419.28 L373.50,419.22 L374.02,419.21 L374.50,419.47 L374.98,420.12 L375.46,420.18 L375.96,420.03 L376.50,419.98 L377.00,420.29 L377.53,419.98 L378.08,419.92 L378.64,419.82 L379.19,419.56 L379.71,419.10 L380.20,419.29 L380.81,419.61 L381.37,419.49 L381.90,419.44 L382.44,419.25 L383.00,419.02 L383.49,419.17 L383.97,419.67 L384.46,420.01 L384.97,420.29 L385.52,420.95 L386.10,421.03 L386.58,421.17 L387.08,420.97 L387.62,421.03 L388.16,420.82 L388.71,420.43 L389.26,420.24 L389.79,419.98 L390.30,420.19 L390.85,419.60 L391.39,419.62 L391.92,419.17 L392.43,419.88 L392.95,419.92 L393.47,420.78 L394.00,421.18 L394.54,421.88 L395.08,421.69 L395.63,421.88 L396.17,421.66 L396.72,421.26 L397.26,421.19 L397.80,420.97 L398.33,420.27 L398.86,419.62 L399.38,419.52 L399.91,418.76 L400.43,418.99 L400.96,419.38 L401.50,419.39 L402.05,419.06 L402.62,419.24 L403.19,418.64 L403.76,418.35 L404.32,418.83 L404.87,419.05 L405.40,419.18 L406.00,420.15 L406.60,420.73 L407.19,421.12 L407.74,422.29 L408.25,423.14 L408.70,423.44 L409.29,423.39 L409.71,422.65 L410.40,421.82 L410.82,421.65 L411.31,421.25 L411.87,420.70 L412.45,420.42 L413.04,420.07 L413.61,419.97 L414.14,419.95 L414.60,420.36 L415.19,421.45 L415.68,422.35 L416.12,423.51 L416.57,424.49 L417.10,425.27 L417.62,425.59 L418.17,425.81 L418.75,426.03 L419.34,425.74 L419.93,425.58 L420.50,425.22 L421.05,425.01 L421.60,424.45 L422.15,424.41 L422.70,423.99 L423.25,423.80 L423.80,423.39 L424.37,423.05 L424.96,423.09 L425.54,422.71 L426.12,422.69 L426.68,422.75 L427.20,422.93 L427.77,422.58 L428.31,423.03 L428.81,422.96 L429.31,423.04 L429.80,423.02 L430.39,422.72 L430.95,422.04 L431.53,421.36 L432.20,421.43 L432.70,421.62 L433.23,422.13 L433.79,423.09 L434.37,423.56 L434.98,424.39 L435.60,424.88 L436.09,424.89 L436.59,424.44 L437.12,424.35 L437.65,423.57 L438.19,422.55 L438.73,421.87 L439.27,421.14 L439.80,420.64 L440.32,420.90 L440.83,421.12 L441.34,421.47 L441.85,421.89 L442.37,422.62 L442.89,422.57 L443.44,422.91 L444.00,422.82 L444.48,422.54 L444.99,421.69 L445.52,421.07 L446.06,420.36 L446.61,420.26 L447.14,419.92 L447.66,419.50 L448.15,419.34 L448.60,419.06 L449.00,418.87 L449.66,419.53 L450.18,421.42 L450.62,422.86 L451.04,424.80 L451.50,425.41 L451.97,425.91 L452.42,425.38 L452.88,424.64 L453.39,424.05 L454.00,423.77 L454.45,423.30 L454.97,422.98 L455.52,423.63 L456.09,423.22 L456.67,423.70 L457.22,423.89 L457.74,424.47 L458.20,424.28 L458.80,424.77 L459.28,425.57 L459.72,426.43 L460.20,426.57 L460.80,427.21 L461.26,427.65 L461.77,426.77 L462.31,425.84 L462.88,425.61 L463.44,424.44 L464.00,423.78 L464.52,423.53 L465.00,423.72 L465.55,423.48 L466.01,423.89 L466.44,424.00 L466.89,424.16 L467.39,424.10 L468.00,423.84 L468.43,423.26 L468.91,422.56 L469.43,422.53 L469.97,422.03 L470.52,421.87 L471.08,421.77 L471.63,421.95 L472.16,421.56 L472.65,421.92 L473.10,421.89 L473.72,422.06 L474.23,422.42 L474.69,423.00 L475.17,423.46 L475.75,423.68 L476.50,424.13 L476.92,424.30 L477.39,424.31 L477.89,423.52 L478.42,423.31 L478.98,422.94 L479.55,422.52 L480.14,421.54 L480.72,421.44 L481.29,421.44 L481.86,421.22 L482.40,420.87 L482.92,420.94 L483.40,421.00 L483.98,420.76 L484.54,420.86 L485.06,421.35 L485.57,422.45 L486.06,423.28 L486.55,424.24 L487.03,424.83 L487.51,425.30 L488.00,425.60 L488.50,425.71 L489.01,425.55 L489.51,425.82 L490.00,425.75 L490.50,425.61 L490.99,425.26 L491.50,425.13 L492.00,424.40 L492.52,424.01 L493.05,423.61 L493.60,423.66 L494.07,423.51 L494.56,423.33 L495.06,422.77 L495.57,422.55 L496.08,421.98 L496.60,421.64 L497.12,421.26 L497.63,421.15 L498.14,420.77 L498.64,421.16 L499.13,421.43 L499.60,421.95 L500.15,422.55 L500.69,422.71 L501.22,422.46 L501.74,422.73 L502.26,422.66 L502.76,423.00 L503.26,423.53 L503.75,424.11 L504.23,424.00 L504.70,424.12 L505.26,424.05 L505.77,423.70 L506.26,423.60 L506.74,423.49 L507.24,423.60 L507.77,423.49 L508.35,423.51 L509.00,423.13 L509.45,422.85 L509.94,422.41 L510.47,422.30 L511.02,421.76 L511.59,421.28 L512.17,421.19 L512.75,421.04 L513.32,420.63 L513.88,420.40 L514.41,420.69 L514.92,420.20 L515.38,420.28 L515.80,420.10 L516.54,420.81 L517.12,420.84 L517.60,422.11 L518.06,423.02 L518.57,423.72 L519.20,423.45 L519.65,423.96 L520.13,423.98 L520.63,423.09 L521.16,422.84 L521.69,422.42 L522.24,421.43 L522.79,420.94 L523.34,421.10 L523.88,421.02 L524.40,421.39 L524.91,421.85 L525.40,421.78 L525.88,422.08 L526.37,422.60 L526.85,423.13 L527.34,423.92 L527.85,424.34 L528.37,424.87 L528.92,424.96 L529.50,424.68 L529.98,424.62 L530.49,424.50 L531.03,423.94 L531.58,423.22 L532.16,423.36 L532.73,422.56 L533.30,422.81 L533.87,422.32 L534.42,422.55 L534.94,422.34 L535.44,422.41 L535.89,421.95 L536.30,422.43 L537.04,422.32 L537.62,422.11 L538.10,422.62 L538.54,422.85 L538.99,423.03 L539.50,423.12 L539.98,423.71 L540.45,423.43 L540.93,423.75 L541.42,423.30 L541.94,423.04 L542.50,422.70 L543.10,422.63 L543.56,422.42 L544.04,422.24 L544.55,422.27 L545.07,422.02 L545.61,421.33 L546.15,420.50 L546.70,420.47 L547.24,420.34 L547.78,420.04 L548.30,420.17 L548.82,420.48 L549.35,420.79 L549.89,420.69 L550.43,420.93 L550.96,421.36 L551.49,421.99 L552.00,422.29 L552.49,422.78 L552.96,422.77 L553.40,422.88 L554.07,422.75 L554.66,422.47 L555.21,422.23 L555.73,422.35 L556.25,421.72 L556.80,421.32 L557.37,421.01 L557.93,420.47 L558.50,420.22 L559.07,420.94 L559.63,421.26 L560.20,421.24 L560.77,421.52 L561.33,421.77 L561.89,422.08 L562.46,422.22 L563.03,422.56 L563.60,422.95 L564.08,422.88 L564.55,422.20 L565.01,422.17 L565.48,422.60 L565.98,422.59 L566.52,422.78 L567.10,422.74 L567.55,422.65 L568.02,422.32 L568.51,422.22 L569.02,421.94 L569.55,421.79 L570.08,422.00 L570.62,421.68 L571.15,421.64 L571.68,421.64 L572.20,422.19 L572.71,421.81 L573.22,421.77 L573.73,421.65 L574.24,421.79 L574.75,421.94 L575.26,422.13 L575.77,422.70 L576.28,422.80 L576.79,423.12 L577.30,422.79 L577.83,423.25 L578.40,423.57 L578.99,423.43 L579.58,423.64 L580.17,424.18 L580.73,424.16 L581.24,423.65 L581.71,424.25 L582.10,424.26 L582.40,424.21" stroke="#4a8fd6" stroke-width="1.2" fill="none" stroke-linejoin="round"/>
<path d="M357.90,448.35 L358.29,448.17 L358.85,447.28 L359.46,446.91 L360.00,446.72 L360.55,446.75 L361.04,447.21 L361.60,447.71 L362.11,446.98 L362.66,446.57 L363.23,446.21 L363.80,445.92 L364.36,446.07 L364.92,446.59 L365.49,447.04 L366.10,447.11 L366.61,447.36 L367.15,447.59 L367.69,447.72 L368.25,448.11 L368.80,448.52 L369.37,448.40 L369.97,448.32 L370.56,448.28 L371.12,447.75 L371.60,447.49 L372.20,448.07 L372.66,448.42 L373.20,448.69 L373.74,448.44 L374.35,447.69 L374.96,447.15 L375.50,446.72 L376.06,446.77 L376.55,447.53 L377.10,447.82 L377.59,447.22 L378.12,446.79 L378.69,446.22 L379.30,445.62 L379.82,445.72 L380.38,445.90 L380.95,445.87 L381.53,446.22 L382.10,446.13 L382.67,445.66 L383.25,445.20 L383.82,445.10 L384.38,444.66 L384.90,444.63 L385.49,445.12 L386.04,445.60 L386.56,446.21 L387.10,446.72 L387.62,447.24 L388.13,447.88 L388.67,448.45 L389.30,448.63 L389.80,448.55 L390.36,448.21 L390.95,447.42 L391.54,446.61 L392.10,446.06 L392.60,445.47 L393.23,445.44 L393.78,446.39 L394.29,447.43 L394.80,447.59 L395.32,447.22 L395.83,446.44 L396.33,445.55 L396.80,445.08 L397.37,445.74 L397.90,446.86 L398.50,447.47 L399.03,447.29 L399.61,446.24 L400.20,445.42 L400.80,445.06 L401.33,445.87 L401.82,446.90 L402.40,448.18 L403.20,448.39 L403.61,448.02 L404.08,447.10 L404.59,446.40 L405.13,445.42 L405.69,444.30 L406.26,443.74 L406.83,443.26 L407.39,442.34 L407.91,442.12 L408.40,442.12 L408.98,442.59 L409.54,443.34 L410.09,444.99 L410.62,446.44 L411.14,447.84 L411.62,448.98 L412.08,450.46 L412.50,451.13 L413.18,451.73 L413.71,452.14 L414.23,451.87 L414.90,450.86 L415.32,450.24 L415.79,449.62 L416.29,448.47 L416.81,447.48 L417.34,446.78 L417.87,446.04 L418.39,445.22 L418.90,445.02 L419.46,445.72 L420.03,446.58 L420.59,447.73 L421.15,449.68 L421.70,451.34 L422.25,452.53 L422.80,453.47 L423.35,453.74 L423.91,453.43 L424.47,453.04 L425.02,452.52 L425.54,451.73 L426.04,451.18 L426.50,451.01 L427.17,450.62 L427.71,450.16 L428.25,450.04 L428.90,449.70 L429.35,449.32 L429.84,449.46 L430.35,449.65 L430.88,449.50 L431.41,449.66 L431.92,449.46 L432.40,449.23 L433.03,448.72 L433.63,448.55 L434.21,448.20 L434.77,448.07 L435.30,448.05 L435.91,447.90 L436.48,447.43 L437.03,447.10 L437.60,447.14 L438.17,447.72 L438.73,448.94 L439.32,450.41 L440.00,451.06 L440.43,450.63 L440.87,450.02 L441.33,449.01 L441.82,447.72 L442.34,446.70 L442.90,445.94 L443.50,445.68 L443.96,446.09 L444.45,446.81 L444.98,447.30 L445.52,448.62 L446.08,449.80 L446.64,450.50 L447.19,451.50 L447.72,452.68 L448.23,452.81 L448.70,452.81 L449.32,452.48 L449.91,450.97 L450.46,448.70 L450.99,447.12 L451.50,445.01 L452.00,443.45 L452.50,443.22 L453.07,444.50 L453.62,446.39 L454.16,449.43 L454.68,452.63 L455.19,454.71 L455.70,456.24 L456.25,456.28 L456.72,454.79 L457.22,452.70 L457.81,450.96 L458.60,450.41 L459.01,450.47 L459.48,451.20 L459.99,451.95 L460.53,452.95 L461.10,453.47 L461.68,454.52 L462.26,455.07 L462.83,455.95 L463.38,456.81 L463.90,457.86 L464.38,458.23 L464.80,458.55 L465.52,458.64 L466.13,457.77 L466.66,456.42 L467.13,455.40 L467.57,454.45 L468.00,453.77 L468.55,452.95 L468.99,452.63 L469.43,452.17 L470.00,451.81 L470.47,451.59 L470.97,452.41 L471.51,452.58 L472.10,452.99 L472.72,453.12 L473.40,452.98 L473.84,452.41 L474.32,451.98 L474.82,451.06 L475.35,450.25 L475.88,449.37 L476.42,448.42 L476.95,447.33 L477.46,446.39 L477.95,446.04 L478.40,445.48 L479.00,445.34 L479.55,445.69 L480.07,446.51 L480.57,447.09 L481.07,448.13 L481.57,448.74 L482.10,449.43 L482.64,449.30 L483.19,448.96 L483.75,447.89 L484.30,447.09 L484.87,446.47 L485.43,446.18 L486.00,446.21 L486.50,447.03 L487.01,448.65 L487.52,450.17 L488.03,452.05 L488.55,454.00 L489.06,455.67 L489.58,456.77 L490.10,457.15 L490.61,456.61 L491.12,455.26 L491.63,453.48 L492.14,451.49 L492.65,449.39 L493.18,447.87 L493.73,446.80 L494.30,446.28 L494.77,446.39 L495.26,447.25 L495.77,448.42 L496.28,449.76 L496.80,451.49 L497.32,452.77 L497.85,453.95 L498.37,454.77 L498.89,455.15 L499.40,455.34 L499.92,455.51 L500.45,455.12 L500.99,454.67 L501.53,453.90 L502.06,452.86 L502.58,451.63 L503.09,450.96 L503.56,449.99 L504.00,449.71 L504.40,449.38 L505.02,450.07 L505.46,451.19 L505.83,453.13 L506.27,454.16 L506.90,454.80 L507.31,454.74 L507.77,454.38 L508.27,453.51 L508.80,453.28 L509.34,452.64 L509.90,451.88 L510.45,451.19 L511.00,450.41 L511.51,449.47 L512.00,449.28 L512.57,448.99 L513.12,448.64 L513.66,449.03 L514.18,449.38 L514.69,449.24 L515.20,449.16 L515.70,449.25 L516.20,448.60 L516.76,447.90 L517.32,447.17 L517.86,446.50 L518.40,445.67 L518.93,445.41 L519.47,445.24 L520.00,445.16 L520.51,445.52 L521.00,446.73 L521.48,448.12 L521.97,449.40 L522.49,451.06 L523.06,452.06 L523.70,451.99 L524.16,451.72 L524.65,451.14 L525.17,450.13 L525.72,448.68 L526.28,447.76 L526.86,446.37 L527.43,445.03 L528.00,443.65 L528.55,442.97 L529.09,442.51 L529.60,442.35 L530.14,442.83 L530.67,443.83 L531.19,445.16 L531.70,446.43 L532.21,448.03 L532.70,449.35 L533.19,450.95 L533.67,452.31 L534.14,453.28 L534.60,453.75 L535.16,454.23 L535.69,453.66 L536.19,452.83 L536.69,451.80 L537.19,450.68 L537.71,449.60 L538.24,448.86 L538.80,448.11 L539.28,447.81 L539.79,447.58 L540.33,447.20 L540.87,446.83 L541.42,446.59 L541.96,446.45 L542.49,446.29 L542.99,446.53 L543.47,446.58 L543.90,446.91 L544.53,447.12 L545.06,447.74 L545.54,447.88 L546.00,448.14 L546.48,448.12 L547.00,448.06 L547.49,447.59 L548.00,447.14 L548.52,446.73 L549.04,446.30 L549.57,445.81 L550.09,445.84 L550.60,445.97 L551.18,446.11 L551.75,446.61 L552.32,447.02 L552.88,447.28 L553.44,447.54 L554.00,448.03 L554.56,448.19 L555.11,448.48 L555.66,448.54 L556.21,448.52 L556.76,448.04 L557.30,447.52 L557.84,447.13 L558.36,446.87 L558.89,446.51 L559.41,446.41 L559.95,446.46 L560.50,446.85 L560.98,446.86 L561.48,447.30 L561.98,447.66 L562.48,448.10 L562.99,448.37 L563.50,448.50 L564.00,448.69 L564.50,448.60 L565.01,448.24 L565.52,448.13 L566.02,447.93 L566.52,447.50 L567.02,447.73 L567.50,447.74 L568.05,447.75 L568.59,448.30 L569.11,448.52 L569.64,448.51 L570.16,449.18 L570.70,449.40 L571.24,449.31 L571.79,449.36 L572.34,449.23 L572.89,448.88 L573.44,448.24 L574.00,447.92 L574.57,447.79 L575.16,447.99 L575.74,448.20 L576.32,448.51 L576.88,448.59 L577.40,448.65 L577.97,448.68 L578.51,448.35 L579.01,448.10 L579.51,448.24 L580.00,448.31 L580.67,448.21 L581.36,448.55 L581.97,449.39 L582.40,449.84" stroke="#c99a9f" stroke-width="1.15" fill="none" stroke-linejoin="round"/>
<path d="M357.90,483.13 L358.25,483.42 L358.74,483.56 L359.32,483.60 L359.93,484.13 L360.50,484.21 L361.06,483.97 L361.66,483.53 L362.25,482.79 L362.81,482.32 L363.30,482.22 L363.95,482.08 L364.48,482.87 L365.00,483.43 L365.52,482.57 L366.03,481.43 L366.60,481.32 L367.09,481.40 L367.62,482.47 L368.19,483.45 L368.80,483.88 L369.33,483.77 L369.91,483.78 L370.49,483.34 L371.07,483.07 L371.60,482.96 L372.18,482.51 L372.70,482.35 L373.22,481.99 L373.80,481.79 L374.32,481.75 L374.88,481.79 L375.46,481.57 L376.04,481.30 L376.60,481.20 L377.15,480.96 L377.71,481.28 L378.26,481.39 L378.79,482.06 L379.30,481.96 L379.87,482.44 L380.39,482.35 L380.92,482.73 L381.50,482.62 L382.02,482.88 L382.58,482.82 L383.15,483.13 L383.73,483.06 L384.30,482.99 L384.87,483.06 L385.45,482.66 L386.02,482.14 L386.58,481.97 L387.10,481.93 L387.67,481.76 L388.17,482.37 L388.69,482.72 L389.30,482.58 L389.80,482.30 L390.38,481.91 L390.98,481.30 L391.58,480.71 L392.13,480.44 L392.60,480.34 L393.28,480.52 L393.79,480.65 L394.30,481.29 L394.87,482.55 L395.45,484.04 L396.10,484.93 L396.65,484.56 L397.23,483.86 L397.85,482.94 L398.50,482.51 L399.05,482.41 L399.63,482.59 L400.23,482.60 L400.82,482.92 L401.40,482.48 L401.95,481.72 L402.50,480.59 L403.04,479.56 L403.57,478.33 L404.10,477.93 L404.62,477.83 L405.13,478.86 L405.64,479.93 L406.16,481.13 L406.70,482.19 L407.26,483.34 L407.84,484.20 L408.43,485.41 L409.02,486.25 L409.60,486.85 L410.16,487.64 L410.70,488.08 L411.25,488.25 L411.84,487.85 L412.50,487.16 L412.97,485.78 L413.49,484.06 L414.05,481.86 L414.62,480.11 L415.18,477.78 L415.71,476.21 L416.19,475.33 L416.60,474.56 L417.34,476.10 L417.83,480.33 L418.40,484.04 L418.84,485.65 L419.31,487.43 L419.81,488.75 L420.34,489.80 L420.90,490.64 L421.39,490.43 L421.89,490.31 L422.41,490.15 L422.97,489.77 L423.56,489.21 L424.20,488.75 L424.67,488.50 L425.17,488.16 L425.71,487.75 L426.26,487.41 L426.82,487.37 L427.37,486.97 L427.91,486.65 L428.42,486.35 L428.90,486.18 L429.47,485.35 L430.00,484.50 L430.52,483.46 L431.00,482.24 L431.48,481.20 L431.94,480.78 L432.40,480.42 L433.02,480.56 L433.61,481.81 L434.18,482.85 L434.74,483.81 L435.30,485.10 L435.84,486.09 L436.36,487.31 L436.87,488.53 L437.41,489.63 L438.00,489.47 L438.46,489.05 L438.94,487.65 L439.43,486.14 L439.94,484.18 L440.46,482.65 L440.98,481.48 L441.50,481.28 L442.01,481.88 L442.53,483.59 L443.05,485.42 L443.58,487.04 L444.11,488.51 L444.65,489.20 L445.20,488.87 L445.71,487.26 L446.25,485.16 L446.81,481.81 L447.37,478.49 L447.91,475.24 L448.43,472.53 L448.89,470.20 L449.30,469.46 L450.04,471.64 L450.53,477.90 L451.10,484.32 L451.57,487.86 L452.08,491.55 L452.62,495.24 L453.17,497.94 L453.70,498.78 L454.18,497.32 L454.62,494.46 L455.09,490.45 L455.63,486.90 L456.30,485.39 L456.70,485.71 L457.14,486.12 L457.62,487.06 L458.12,488.40 L458.64,489.40 L459.17,490.44 L459.71,491.48 L460.25,492.75 L460.78,493.00 L461.30,493.10 L461.82,492.44 L462.34,491.21 L462.87,489.35 L463.40,487.72 L463.94,485.87 L464.47,484.05 L464.99,482.69 L465.51,481.35 L466.01,480.51 L466.50,480.12 L467.09,480.64 L467.67,482.17 L468.23,484.63 L468.79,487.29 L469.33,489.77 L469.86,492.28 L470.38,493.60 L470.90,494.29 L471.49,493.72 L472.07,492.54 L472.65,490.52 L473.21,488.27 L473.74,485.95 L474.24,484.25 L474.70,483.19 L475.37,482.65 L475.91,483.32 L476.42,483.89 L477.00,484.57 L477.53,485.43 L478.09,486.38 L478.67,487.06 L479.27,487.82 L479.90,487.14 L480.36,485.79 L480.84,483.76 L481.33,481.02 L481.83,478.36 L482.34,476.35 L482.86,474.99 L483.40,474.76 L483.88,476.18 L484.36,478.57 L484.86,481.93 L485.36,485.48 L485.88,489.18 L486.40,492.78 L486.95,495.65 L487.50,496.73 L488.02,496.66 L488.57,495.50 L489.13,493.47 L489.71,490.98 L490.29,488.32 L490.86,485.63 L491.40,483.22 L491.92,481.15 L492.40,479.89 L493.05,480.18 L493.63,481.46 L494.17,483.20 L494.69,485.34 L495.19,486.88 L495.70,487.40 L496.27,486.78 L496.77,485.30 L497.29,483.58 L497.87,482.53 L498.60,482.05 L499.03,482.43 L499.50,483.44 L500.00,484.26 L500.52,484.95 L501.07,486.05 L501.63,486.92 L502.20,487.51 L502.77,488.28 L503.34,489.13 L503.90,489.68 L504.41,490.09 L504.94,490.08 L505.48,489.98 L506.02,489.80 L506.56,489.40 L507.11,488.78 L507.65,488.60 L508.18,488.10 L508.71,487.22 L509.21,486.86 L509.70,486.68 L510.28,486.11 L510.85,485.72 L511.41,485.65 L511.96,484.99 L512.49,484.55 L513.01,483.79 L513.50,483.36 L513.96,482.47 L514.40,481.95 L515.08,480.41 L515.63,478.46 L516.14,476.63 L516.67,475.70 L517.30,475.60 L517.75,476.18 L518.23,478.13 L518.72,480.36 L519.24,482.70 L519.77,485.18 L520.30,487.43 L520.85,488.97 L521.40,489.56 L521.88,489.55 L522.36,488.55 L522.84,487.47 L523.32,486.14 L523.82,484.62 L524.34,482.91 L524.89,481.95 L525.47,480.99 L526.10,480.36 L526.53,480.63 L526.99,481.26 L527.47,481.92 L527.97,482.81 L528.48,483.65 L529.00,484.50 L529.53,485.10 L530.06,486.00 L530.59,486.60 L531.12,487.71 L531.64,488.65 L532.14,489.30 L532.63,489.74 L533.10,490.39 L533.68,490.39 L534.25,489.96 L534.82,489.47 L535.37,488.95 L535.92,487.85 L536.45,487.23 L536.97,486.56 L537.48,485.90 L537.97,485.27 L538.44,485.10 L538.90,484.69 L539.50,484.31 L540.07,484.37 L540.61,484.18 L541.12,484.21 L541.61,484.58 L542.07,484.59 L542.50,484.60 L542.90,484.63 L543.56,484.28 L544.07,483.62 L544.54,483.47 L545.10,483.33 L545.63,483.08 L546.19,482.90 L546.78,482.79 L547.38,482.76 L548.00,482.39 L548.54,482.16 L549.13,481.94 L549.72,481.84 L550.30,481.55 L550.83,481.60 L551.30,481.84 L552.00,482.79 L552.53,483.96 L553.10,484.20 L553.62,483.84 L554.18,482.76 L554.74,481.91 L555.30,481.18 L555.86,481.56 L556.43,481.86 L556.98,482.56 L557.50,482.72 L558.13,483.26 L558.71,483.38 L559.30,483.28 L559.89,482.77 L560.49,482.08 L561.20,481.58 L561.73,481.97 L562.32,482.48 L562.94,482.91 L563.55,483.33 L564.10,483.41 L564.70,483.13 L565.24,482.64 L565.77,482.11 L566.30,482.13 L566.85,482.81 L567.40,483.64 L567.95,484.47 L568.50,485.29 L569.03,485.60 L569.56,485.52 L570.10,485.47 L570.70,485.44 L571.24,485.12 L571.81,484.54 L572.41,484.25 L573.01,483.97 L573.60,483.55 L574.18,483.42 L574.76,483.51 L575.34,483.48 L575.92,483.61 L576.50,484.00 L577.08,483.89 L577.66,483.89 L578.23,484.21 L578.81,484.32 L579.40,484.05 L579.93,484.02 L580.50,483.82 L581.08,483.76 L581.62,483.26 L582.07,483.44 L582.40,483.62" stroke="#f28a8a" stroke-width="1.15" fill="none" stroke-linejoin="round"/>
<circle cx="408.80" cy="438.90" r="2.3" fill="#2e9fd9" stroke="none" stroke-width="1"/>
<circle cx="419.80" cy="440.40" r="2.3" fill="#e0413b" stroke="none" stroke-width="1"/>
<circle cx="443.80" cy="442.20" r="2.3" fill="#2e9fd9" stroke="none" stroke-width="1"/>
<circle cx="453.00" cy="439.70" r="2.3" fill="#e0413b" stroke="none" stroke-width="1"/>
<circle cx="459.60" cy="445.30" r="2.3" fill="#2e9fd9" stroke="none" stroke-width="1"/>
<circle cx="479.20" cy="441.80" r="2.3" fill="#2e9fd9" stroke="none" stroke-width="1"/>
<circle cx="486.30" cy="442.70" r="2.3" fill="#e0413b" stroke="none" stroke-width="1"/>
<circle cx="494.30" cy="441.00" r="2.3" fill="#2e9fd9" stroke="none" stroke-width="1"/>
<circle cx="520.60" cy="439.30" r="2.3" fill="#e0413b" stroke="none" stroke-width="1"/>
<circle cx="530.10" cy="436.80" r="2.3" fill="#2e9fd9" stroke="none" stroke-width="1"/>
<circle cx="405.30" cy="473.80" r="2.3" fill="#2e9fd9" stroke="none" stroke-width="1"/>
<circle cx="418.90" cy="472.50" r="2.3" fill="#e0413b" stroke="none" stroke-width="1"/>
<circle cx="441.70" cy="477.30" r="2.3" fill="#2e9fd9" stroke="none" stroke-width="1"/>
<circle cx="449.90" cy="465.40" r="2.3" fill="#e0413b" stroke="none" stroke-width="1"/>
<circle cx="457.70" cy="480.10" r="2.3" fill="#2e9fd9" stroke="none" stroke-width="1"/>
<circle cx="477.80" cy="476.70" r="2.3" fill="#2e9fd9" stroke="none" stroke-width="1"/>
<circle cx="484.20" cy="469.80" r="2.3" fill="#e0413b" stroke="none" stroke-width="1"/>
<circle cx="493.60" cy="474.70" r="2.3" fill="#2e9fd9" stroke="none" stroke-width="1"/>
<circle cx="517.30" cy="471.80" r="2.3" fill="#e0413b" stroke="none" stroke-width="1"/>
<circle cx="527.00" cy="476.00" r="2.3" fill="#2e9fd9" stroke="none" stroke-width="1"/>
<text x="504.20" y="407.30" font-size="6.3" fill="#333" text-anchor="start" font-weight="normal" textLength="75.3" lengthAdjust="spacingAndGlyphs">Without condensates (0 min)</text>
<rect x="498.40" y="426.60" width="82.90" height="8.20" fill="none" stroke="#a8a8a8" stroke-width="0.75" stroke-dasharray="2.6,1.8"/>
<text x="501.50" y="432.00" font-size="6.3" fill="#333" text-anchor="start" font-weight="normal" textLength="77.5" lengthAdjust="spacingAndGlyphs">Without condensates (20 min)</text>
<text x="512.30" y="460.50" font-size="6.3" fill="#333" text-anchor="start" font-weight="normal" textLength="66.5" lengthAdjust="spacingAndGlyphs">With condensates (0 min)</text>
<rect x="498.60" y="492.40" width="81.70" height="9.00" fill="none" stroke="#a8a8a8" stroke-width="0.75" stroke-dasharray="2.6,1.8"/>
<text x="507.00" y="499.40" font-size="6.3" fill="#333" text-anchor="start" font-weight="normal" textLength="70.0" lengthAdjust="spacingAndGlyphs">With condensates (20 min)</text>
<path d="M582.9,421.5 L599.0,406.0 M582.9,434.5 L599.0,434.5" stroke="#b8b8b8" stroke-width="0.6" fill="none" stroke-dasharray="2,1.6"/>
<path d="M582.9,492.4 L599.1,484.0 M582.9,501.4 L599.1,508.0" stroke="#b8b8b8" stroke-width="0.6" fill="none" stroke-dasharray="2,1.6"/>
<rect x="597.90" y="375.20" width="67.40" height="67.60" fill="none" stroke="#b0b0b0" stroke-width="0.75" stroke-dasharray="2.6,1.8"/>
<rect x="599.00" y="376.60" width="65.10" height="64.60" fill="#848589" stroke="none" stroke-width="1"/>
<rect x="638.80" y="435.20" width="22.30" height="2.70" fill="#fff" stroke="none" stroke-width="1"/>
<rect x="597.30" y="447.50" width="68.30" height="67.70" fill="none" stroke="#b0b0b0" stroke-width="0.75" stroke-dasharray="2.6,1.8"/>
<rect x="599.10" y="449.30" width="64.40" height="64.10" fill="#828387" stroke="none" stroke-width="1"/>
<circle cx="623.30" cy="458.30" r="2.0" fill="#999a9e" stroke="#606165" stroke-width="0.75"/>
<circle cx="623.00" cy="458.50" r="1.1" fill="#b4b5b8" stroke="none" stroke-width="1" opacity="0.8"/>
<path d="M623.65,456.33 A2.00,2.00 0 0 1 625.27,458.65" stroke="#e8e8e8" stroke-width="0.7" fill="none"/>
<circle cx="630.70" cy="456.20" r="3.3" fill="#999a9e" stroke="#606165" stroke-width="0.75"/>
<circle cx="630.21" cy="456.53" r="1.815" fill="#b4b5b8" stroke="none" stroke-width="1" opacity="0.8"/>
<path d="M631.27,452.95 A3.30,3.30 0 0 1 633.95,456.77" stroke="#e8e8e8" stroke-width="0.7" fill="none"/>
<circle cx="618.70" cy="486.90" r="4.1" fill="#999a9e" stroke="#606165" stroke-width="0.75"/>
<circle cx="618.09" cy="487.31" r="2.255" fill="#b4b5b8" stroke="none" stroke-width="1" opacity="0.8"/>
<path d="M619.41,482.86 A4.10,4.10 0 0 1 622.74,487.61" stroke="#e8e8e8" stroke-width="0.7" fill="none"/>
<circle cx="648.20" cy="490.30" r="2.0" fill="#999a9e" stroke="#606165" stroke-width="0.75"/>
<circle cx="647.90" cy="490.50" r="1.1" fill="#b4b5b8" stroke="none" stroke-width="1" opacity="0.8"/>
<path d="M648.55,488.33 A2.00,2.00 0 0 1 650.17,490.65" stroke="#e8e8e8" stroke-width="0.7" fill="none"/>
<circle cx="625.20" cy="507.70" r="2.4" fill="#999a9e" stroke="#606165" stroke-width="0.75"/>
<circle cx="624.84" cy="507.94" r="1.32" fill="#b4b5b8" stroke="none" stroke-width="1" opacity="0.8"/>
<path d="M625.62,505.34 A2.40,2.40 0 0 1 627.56,508.12" stroke="#e8e8e8" stroke-width="0.7" fill="none"/>
<rect x="639.20" y="508.00" width="21.90" height="2.60" fill="#fff" stroke="none" stroke-width="1"/>
</svg>
</body></html>
